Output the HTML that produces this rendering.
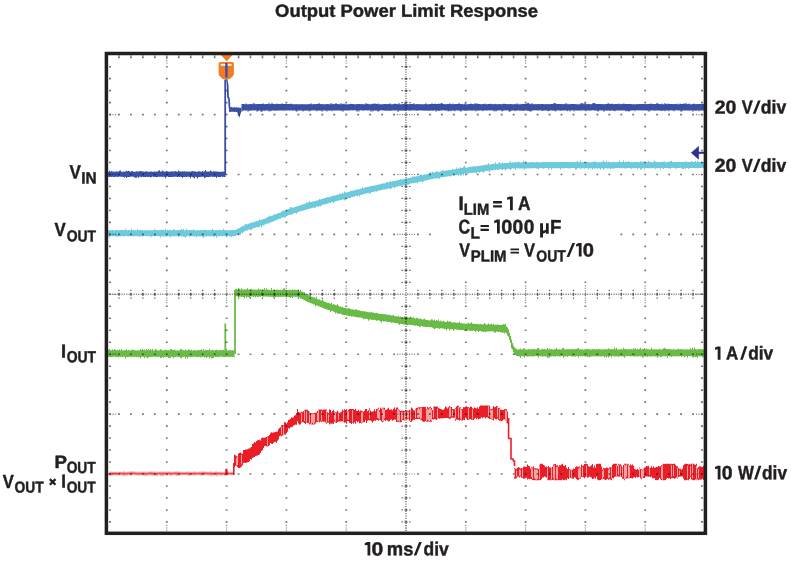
<!DOCTYPE html>
<html><head><meta charset="utf-8"><style>
html,body{margin:0;padding:0;background:#fff;}
svg{display:block;}
text{font-family:"Liberation Sans",sans-serif;font-weight:bold;fill:#231f20;stroke:#231f20;stroke-width:0.45px;stroke-linejoin:round;text-rendering:geometricPrecision;}
</style></head><body>
<svg width="791" height="562" viewBox="0 0 791 562">
<rect width="791" height="562" fill="#fff"/>
<g><path d="M108 230.13h1V236.3h-1zM109 230.37h1V237.6h-1zM110 230.28h1V236.24h-1zM111 230.16h1V236.08h-1zM112 229.97h1V236.37h-1zM113 230.37h1V236.3h-1zM114 230.38h1V236.24h-1zM115 229.96h1V236.46h-1zM116 230h1V236.47h-1zM117 230.35h1V236.86h-1zM118 230.18h1V236.15h-1zM119 230.21h1V236.29h-1zM120 229.95h1V236.46h-1zM121 229.9h1V236.08h-1zM122 229.92h1V236.28h-1zM123 230.29h1V236.29h-1zM124 230.37h1V236.49h-1zM125 228.84h1V236.08h-1zM126 230.02h1V236.02h-1zM127 230.38h1V236.17h-1zM128 229.91h1V236.5h-1zM129 230.36h1V236.02h-1zM130 230.2h1V236.08h-1zM131 228.76h1V236.48h-1zM132 230.21h1V236.26h-1zM133 230.1h1V236.31h-1zM134 230.15h1V236.36h-1zM135 230.25h1V236.26h-1zM136 230.39h1V236.29h-1zM137 229.06h1V236.03h-1zM138 230.17h1V236.18h-1zM139 230.03h1V236.67h-1zM140 229.92h1V236.23h-1zM141 230.24h1V236.16h-1zM142 230.1h1V236.19h-1zM143 230.39h1V236.37h-1zM144 230.29h1V236.12h-1zM145 230.18h1V236.05h-1zM146 230.23h1V236.22h-1zM147 230.32h1V236.33h-1zM148 230.17h1V236.06h-1zM149 230.3h1V236.42h-1zM150 230.26h1V236.32h-1zM151 230.23h1V236.95h-1zM152 230.26h1V236.21h-1zM153 230.2h1V236.08h-1zM154 228.67h1V236.49h-1zM155 229.92h1V236.11h-1zM156 229.98h1V236.26h-1zM157 230.23h1V236.03h-1zM158 230.26h1V236.02h-1zM159 230.05h1V236.45h-1zM160 230.11h1V237.49h-1zM161 229.44h1V236.26h-1zM162 229.93h1V236.17h-1zM163 229.97h1V236.39h-1zM164 230.3h1V236.41h-1zM165 228.85h1V236.4h-1zM166 230.4h1V236.43h-1zM167 229.47h1V236.26h-1zM168 230.16h1V236h-1zM169 229.65h1V236.68h-1zM170 229.97h1V237.2h-1zM171 230.24h1V236.32h-1zM172 230.22h1V236.16h-1zM173 229.13h1V236.19h-1zM174 229.59h1V236.3h-1zM175 230.21h1V236.31h-1zM176 230.21h1V236.35h-1zM177 230.05h1V236.12h-1zM178 230.05h1V237.11h-1zM179 229.96h1V236.19h-1zM180 230h1V236.23h-1zM181 228.82h1V236.44h-1zM182 230.07h1V236.28h-1zM183 229.09h1V236.77h-1zM184 230.38h1V236.72h-1zM185 230.31h1V237.61h-1zM186 228.79h1V236.42h-1zM187 230.11h1V236.02h-1zM188 230.14h1V236.05h-1zM189 229.93h1V236.99h-1zM190 229.99h1V236.09h-1zM191 230.09h1V236.2h-1zM192 230.2h1V236.21h-1zM193 229.2h1V236.21h-1zM194 230.32h1V236.38h-1zM195 230.14h1V236.32h-1zM196 230.33h1V237.5h-1zM197 230.14h1V236.36h-1zM198 230.27h1V236.29h-1zM199 230.28h1V236.48h-1zM200 230.05h1V236.43h-1zM201 230.27h1V236.01h-1zM202 230.21h1V237.03h-1zM203 230.01h1V237.79h-1zM204 230.1h1V236.42h-1zM205 230.12h1V236.36h-1zM206 230.2h1V236.48h-1zM207 230.29h1V236.36h-1zM208 229.92h1V236.12h-1zM209 230.27h1V236.35h-1zM210 229.95h1V236.43h-1zM211 230.19h1V236.04h-1zM212 228.8h1V236.18h-1zM213 230.06h1V237h-1zM214 230.16h1V236.29h-1zM215 230.2h1V236.06h-1zM216 230.07h1V237.66h-1zM217 230.35h1V236.19h-1zM218 230.02h1V236.34h-1zM219 230h1V236.38h-1zM220 230.06h1V236.06h-1zM221 230.22h1V236.34h-1zM222 230.31h1V236.32h-1zM223 228.73h1V236.06h-1zM224 230.33h1V236.36h-1zM225 230.12h1V236.23h-1zM226 230.31h1V237.46h-1zM227 230.13h1V236.18h-1zM228 230.21h1V236.02h-1zM229 230.28h1V236.18h-1zM230 230.2h1V236.39h-1zM231 229.98h1V236.92h-1zM232 229.66h1V236.36h-1zM233 230.31h1V236.37h-1zM234 230.03h1V236.07h-1zM235 230.04h1V236.02h-1zM236 229.49h1V235.24h-1zM237 228.65h1V234.89h-1zM238 228.29h1V234.67h-1zM239 227.91h1V233.9h-1zM240 227.18h1V234.66h-1zM241 226.77h1V232.85h-1zM242 226.24h1V233.3h-1zM243 225.76h1V232.06h-1zM244 225.39h1V231.37h-1zM245 224.01h1V230.68h-1zM246 224.26h1V230.76h-1zM247 224.33h1V230.3h-1zM248 223.72h1V229.85h-1zM249 223.29h1V229.58h-1zM250 223.2h1V229.69h-1zM251 222.28h1V229.92h-1zM252 222.53h1V228.72h-1zM253 222.25h1V228.28h-1zM254 221.71h1V227.94h-1zM255 221.58h1V227.55h-1zM256 220.67h1V227.19h-1zM257 221.1h1V226.89h-1zM258 220.8h1V227.21h-1zM259 219.37h1V226.79h-1zM260 220.04h1V225.87h-1zM261 219.72h1V227.28h-1zM262 219.55h1V225.28h-1zM263 219.11h1V225.54h-1zM264 218.82h1V224.79h-1zM265 218.44h1V224.33h-1zM266 217.87h1V223.83h-1zM267 217.29h1V223.38h-1zM268 216.66h1V223.61h-1zM269 215.57h1V222.66h-1zM270 216.31h1V222.61h-1zM271 216.12h1V222.04h-1zM272 215.68h1V221.75h-1zM273 214.25h1V221.26h-1zM274 214.82h1V220.88h-1zM275 214.22h1V220.28h-1zM276 213.98h1V219.93h-1zM277 213.6h1V219.58h-1zM278 213.08h1V218.95h-1zM279 212.85h1V218.84h-1zM280 212.4h1V218.47h-1zM281 211.6h1V217.87h-1zM282 211.27h1V217.42h-1zM283 210.14h1V216.88h-1zM284 210.76h1V217.79h-1zM285 210.38h1V217.38h-1zM286 210.03h1V216.12h-1zM287 209.44h1V215.71h-1zM288 209h1V215.09h-1zM289 208.38h1V214.73h-1zM290 206.99h1V214.8h-1zM291 207.27h1V214.44h-1zM292 207.78h1V214.14h-1zM293 207.48h1V213.44h-1zM294 207.16h1V213.16h-1zM295 206.91h1V212.78h-1zM296 206.57h1V213.68h-1zM297 206.28h1V212.4h-1zM298 206h1V211.94h-1zM299 205.81h1V211.53h-1zM300 205.16h1V211.62h-1zM301 204.74h1V211.01h-1zM302 204.43h1V210.73h-1zM303 204.36h1V210.62h-1zM304 203.79h1V209.91h-1zM305 203.82h1V209.89h-1zM306 202.19h1V209.5h-1zM307 203.03h1V209.14h-1zM308 202.16h1V208.75h-1zM309 201.31h1V208.92h-1zM310 202.1h1V208.22h-1zM311 202.03h1V208.13h-1zM312 201.55h1V207.8h-1zM313 201.28h1V207.41h-1zM314 201.39h1V208.24h-1zM315 201.03h1V207.56h-1zM316 200.6h1V206.82h-1zM317 200.53h1V206.15h-1zM318 200.09h1V207.11h-1zM319 199h1V205.97h-1zM320 199.56h1V206.4h-1zM321 199.06h1V205.4h-1zM322 199.05h1V205.11h-1zM323 198.41h1V204.57h-1zM324 197.92h1V204.59h-1zM325 198.03h1V204.33h-1zM326 197.69h1V203.86h-1zM327 196.91h1V203.82h-1zM328 197.25h1V203.29h-1zM329 196.96h1V202.87h-1zM330 196.66h1V202.94h-1zM331 196.18h1V202.27h-1zM332 196.11h1V202.12h-1zM333 195.66h1V203.11h-1zM334 195.58h1V201.92h-1zM335 195.48h1V201.26h-1zM336 194.89h1V201.04h-1zM337 194.56h1V200.83h-1zM338 194.7h1V200.86h-1zM339 193.62h1V200.14h-1zM340 193.86h1V200.14h-1zM341 193.96h1V200.04h-1zM342 192.77h1V199.42h-1zM343 193.4h1V199.5h-1zM344 191.46h1V200.54h-1zM345 192.56h1V199.15h-1zM346 192.52h1V198.62h-1zM347 192.32h1V198.21h-1zM348 192.02h1V198.17h-1zM349 191.74h1V198.16h-1zM350 191.08h1V197.96h-1zM351 190.78h1V197h-1zM352 190.56h1V196.99h-1zM353 190.78h1V196.76h-1zM354 190.26h1V196.42h-1zM355 190.03h1V196h-1zM356 189.59h1V195.75h-1zM357 189.39h1V196.33h-1zM358 189.54h1V195.37h-1zM359 189.27h1V196.57h-1zM360 188.59h1V194.94h-1zM361 188.79h1V194.66h-1zM362 187.27h1V194.45h-1zM363 188.19h1V194.25h-1zM364 187.64h1V194.12h-1zM365 187.37h1V193.52h-1zM366 187.25h1V193.54h-1zM367 186.89h1V193.21h-1zM368 186.69h1V192.99h-1zM369 186.58h1V193.6h-1zM370 186.25h1V193.87h-1zM371 185.91h1V192.11h-1zM372 185.71h1V192.19h-1zM373 185.73h1V191.76h-1zM374 185.48h1V191.7h-1zM375 185.35h1V191.21h-1zM376 185.12h1V191.78h-1zM377 184.97h1V191.04h-1zM378 184.4h1V190.79h-1zM379 184.33h1V190.21h-1zM380 184.15h1V190.39h-1zM381 184.03h1V190.03h-1zM382 183.28h1V189.52h-1zM383 183.61h1V189.5h-1zM384 183.27h1V189.42h-1zM385 183.23h1V189.22h-1zM386 181.93h1V189.16h-1zM387 182.24h1V188.66h-1zM388 182.22h1V188.45h-1zM389 181.98h1V188.22h-1zM390 180.84h1V189.53h-1zM391 181.71h1V188.48h-1zM392 181.36h1V187.53h-1zM393 181.24h1V187.27h-1zM394 180.91h1V188.2h-1zM395 180.97h1V187.2h-1zM396 180.56h1V186.56h-1zM397 180.56h1V186.76h-1zM398 180.1h1V186.17h-1zM399 180.09h1V185.98h-1zM400 178.88h1V186.1h-1zM401 179.83h1V185.65h-1zM402 178.74h1V185.59h-1zM403 179.37h1V185.24h-1zM404 179.08h1V184.91h-1zM405 178.68h1V186.09h-1zM406 178.5h1V184.68h-1zM407 178.52h1V184.58h-1zM408 178.04h1V184.38h-1zM409 178h1V184.21h-1zM410 177.4h1V183.59h-1zM411 177.51h1V183.57h-1zM412 176.23h1V183.3h-1zM413 176.81h1V183.09h-1zM414 176.61h1V182.67h-1zM415 176.53h1V182.85h-1zM416 176.32h1V182.61h-1zM417 176.23h1V183.39h-1zM418 175.98h1V182.04h-1zM419 175.59h1V181.73h-1zM420 174.46h1V181.68h-1zM421 174.43h1V181.31h-1zM422 175.23h1V182.06h-1zM423 174.82h1V181.39h-1zM424 174.39h1V180.71h-1zM425 174.6h1V180.39h-1zM426 174.36h1V180.25h-1zM427 174.07h1V179.89h-1zM428 173.72h1V179.69h-1zM429 173.37h1V179.81h-1zM430 172.1h1V179.26h-1zM431 172.84h1V179.31h-1zM432 171.71h1V178.96h-1zM433 172.48h1V178.77h-1zM434 172.54h1V178.48h-1zM435 172.3h1V178.22h-1zM436 171.06h1V178.41h-1zM437 171.79h1V178.23h-1zM438 172.08h1V178.08h-1zM439 171.84h1V179.32h-1zM440 171.54h1V177.46h-1zM441 171.28h1V177.3h-1zM442 170.11h1V177.13h-1zM443 170.59h1V177.09h-1zM444 170.63h1V176.86h-1zM445 170.97h1V176.92h-1zM446 170.17h1V176.57h-1zM447 170.59h1V176.44h-1zM448 170.26h1V176.24h-1zM449 170.09h1V176.09h-1zM450 169.95h1V176.74h-1zM451 169.72h1V175.74h-1zM452 169.2h1V175.53h-1zM453 169.54h1V175.57h-1zM454 169.14h1V175.32h-1zM455 169.31h1V175.19h-1zM456 167.47h1V175.09h-1zM457 168.96h1V174.7h-1zM458 168.36h1V175.66h-1zM459 168.57h1V174.5h-1zM460 167.36h1V175.58h-1zM461 167.92h1V175.38h-1zM462 167.97h1V173.96h-1zM463 166.69h1V175.4h-1zM464 166.12h1V173.52h-1zM465 167.47h1V173.59h-1zM466 167.57h1V173.47h-1zM467 167.49h1V174.5h-1zM468 167.15h1V173.25h-1zM469 167.01h1V172.86h-1zM470 166.75h1V172.95h-1zM471 166.81h1V172.96h-1zM472 166.63h1V172.64h-1zM473 165.86h1V172.65h-1zM474 166.53h1V173.04h-1zM475 166.37h1V172.38h-1zM476 166.16h1V173.45h-1zM477 166.07h1V171.98h-1zM478 166.01h1V172.03h-1zM479 165.64h1V173.12h-1zM480 165.69h1V171.69h-1zM481 165.55h1V171.71h-1zM482 165.53h1V171.63h-1zM483 165.01h1V172.64h-1zM484 165.32h1V171.45h-1zM485 164.83h1V171.07h-1zM486 164.27h1V170.94h-1zM487 164.79h1V170.73h-1zM488 163.14h1V170.68h-1zM489 164.62h1V172.02h-1zM490 164.52h1V170.35h-1zM491 164.34h1V170.22h-1zM492 164.11h1V170.24h-1zM493 163.84h1V170.24h-1zM494 164.12h1V169.86h-1zM495 162.31h1V170.13h-1zM496 163.93h1V169.62h-1zM497 163.77h1V169.98h-1zM498 163.36h1V169.75h-1zM499 162.06h1V169.51h-1zM500 163.36h1V169.31h-1zM501 163.56h1V169.34h-1zM502 162.49h1V170.06h-1zM503 163.2h1V169.15h-1zM504 162.93h1V169.3h-1zM505 163.17h1V170.45h-1zM506 162.96h1V169.17h-1zM507 162.88h1V168.67h-1zM508 162.74h1V168.8h-1zM509 162.54h1V168.99h-1zM510 161.17h1V169.96h-1zM511 162.69h1V168.75h-1zM512 162.2h1V168.27h-1zM513 162.54h1V168.42h-1zM514 162.19h1V168.53h-1zM515 162.31h1V169.85h-1zM516 161.88h1V168.32h-1zM517 162.56h1V168.53h-1zM518 161.35h1V168.27h-1zM519 162.19h1V168.54h-1zM520 162.55h1V168.42h-1zM521 162.44h1V168.21h-1zM522 162.32h1V168.48h-1zM523 161.06h1V168.56h-1zM524 162.41h1V169.81h-1zM525 162.33h1V168.47h-1zM526 162.35h1V168.5h-1zM527 162.47h1V168.47h-1zM528 162.3h1V168.32h-1zM529 162.45h1V168.4h-1zM530 162.02h1V168.32h-1zM531 162.18h1V168.33h-1zM532 162.23h1V168.17h-1zM533 162.32h1V168.11h-1zM534 162.24h1V168.17h-1zM535 162.39h1V168.35h-1zM536 161.64h1V168.53h-1zM537 162.16h1V168.38h-1zM538 162.11h1V169.17h-1zM539 162.41h1V168.19h-1zM540 162.12h1V168.28h-1zM541 162.16h1V168.05h-1zM542 162.23h1V168.19h-1zM543 161.76h1V168.72h-1zM544 162.11h1V168.36h-1zM545 162.37h1V168.11h-1zM546 162.33h1V168.12h-1zM547 161.99h1V168.07h-1zM548 162.04h1V169.7h-1zM549 161.93h1V168.3h-1zM550 162.26h1V168.05h-1zM551 161.99h1V169.48h-1zM552 161.95h1V168.33h-1zM553 162.37h1V168.17h-1zM554 162.05h1V168.36h-1zM555 162.04h1V168.24h-1zM556 161.98h1V168.16h-1zM557 162.27h1V167.98h-1zM558 162.14h1V168.27h-1zM559 161.9h1V168.28h-1zM560 161.94h1V169.57h-1zM561 161.88h1V168.18h-1zM562 162.05h1V168.36h-1zM563 161.96h1V168.13h-1zM564 162.04h1V168.26h-1zM565 162.05h1V168.12h-1zM566 161.93h1V168.11h-1zM567 162.01h1V168.3h-1zM568 162.01h1V168.16h-1zM569 162.14h1V168.35h-1zM570 162.31h1V168.44h-1zM571 162.08h1V167.98h-1zM572 162.05h1V168.12h-1zM573 162.3h1V168.09h-1zM574 161.96h1V168.34h-1zM575 162.1h1V169.59h-1zM576 161.98h1V169.54h-1zM577 161.08h1V167.99h-1zM578 161.91h1V168.12h-1zM579 162.18h1V168.16h-1zM580 160.59h1V168.86h-1zM581 162.3h1V168.38h-1zM582 162.18h1V168.37h-1zM583 162.04h1V168.16h-1zM584 161.86h1V168.79h-1zM585 161.95h1V168.03h-1zM586 162.26h1V168.18h-1zM587 161.94h1V168.34h-1zM588 162.23h1V169.39h-1zM589 162.19h1V168.04h-1zM590 162.3h1V168.39h-1zM591 162.26h1V168.26h-1zM592 161.9h1V169.58h-1zM593 161.93h1V167.97h-1zM594 160.99h1V168.67h-1zM595 161.9h1V168.36h-1zM596 161.9h1V168.21h-1zM597 162.32h1V168.83h-1zM598 162.27h1V168.22h-1zM599 161.89h1V168.37h-1zM600 162.2h1V169.49h-1zM601 161.93h1V168.23h-1zM602 161.45h1V168.3h-1zM603 160.61h1V169.69h-1zM604 161.92h1V168.4h-1zM605 161.97h1V168.34h-1zM606 160.66h1V167.95h-1zM607 162.16h1V168.83h-1zM608 161.38h1V168.41h-1zM609 161.89h1V168.28h-1zM610 162.19h1V169.17h-1zM611 161.95h1V168.21h-1zM612 162h1V168.82h-1zM613 162.21h1V168.4h-1zM614 161.83h1V168.38h-1zM615 161.93h1V168.01h-1zM616 162.02h1V168.24h-1zM617 161.91h1V167.98h-1zM618 161.99h1V167.91h-1zM619 160.54h1V168.26h-1zM620 162.11h1V168.19h-1zM621 162.04h1V168.06h-1zM622 162h1V168.34h-1zM623 160.54h1V168.03h-1zM624 162.25h1V168.32h-1zM625 161.87h1V168.63h-1zM626 162.05h1V168.05h-1zM627 162h1V168.29h-1zM628 160.98h1V167.92h-1zM629 162.03h1V168.08h-1zM630 161.9h1V168.5h-1zM631 162.09h1V168.7h-1zM632 162.2h1V168.23h-1zM633 161.96h1V168.29h-1zM634 161.97h1V168.21h-1zM635 161.99h1V168.26h-1zM636 161.93h1V167.9h-1zM637 161.79h1V169.47h-1zM638 162.25h1V167.89h-1zM639 162.13h1V168.33h-1zM640 161.2h1V169.39h-1zM641 161.59h1V169.51h-1zM642 162.12h1V168.15h-1zM643 161.8h1V168.11h-1zM644 162.15h1V169.48h-1zM645 161.83h1V168.06h-1zM646 162.22h1V168.09h-1zM647 162.18h1V168.31h-1zM648 161h1V168.13h-1zM649 162.07h1V168.28h-1zM650 161.99h1V168.32h-1zM651 162.18h1V168.28h-1zM652 162.21h1V167.94h-1zM653 161.77h1V168.24h-1zM654 160.64h1V167.87h-1zM655 161.8h1V169.01h-1zM656 162.09h1V168.25h-1zM657 161.76h1V168.29h-1zM658 162.16h1V168.15h-1zM659 161.97h1V167.95h-1zM660 162.07h1V169.63h-1zM661 161.92h1V167.93h-1zM662 161.84h1V168.31h-1zM663 161.8h1V168.98h-1zM664 161.47h1V168.03h-1zM665 162.14h1V168.01h-1zM666 162.21h1V168.27h-1zM667 162.12h1V167.9h-1zM668 161.62h1V168.27h-1zM669 162.1h1V167.88h-1zM670 160.85h1V169.07h-1zM671 160.92h1V168.07h-1zM672 161.93h1V167.87h-1zM673 162.05h1V167.98h-1zM674 162.11h1V168.01h-1zM675 162.2h1V168.69h-1zM676 162.03h1V168.31h-1zM677 161.85h1V168h-1zM678 162.1h1V167.94h-1zM679 161.86h1V168.05h-1zM680 161.92h1V167.84h-1zM681 162h1V168.31h-1zM682 162.05h1V168.95h-1zM683 162.04h1V169.12h-1zM684 161.84h1V167.97h-1zM685 162h1V168.76h-1zM686 161.11h1V168.29h-1zM687 162.14h1V167.92h-1zM688 161.9h1V169.01h-1zM689 161.89h1V168.02h-1zM690 162.08h1V168.13h-1zM691 161h1V167.91h-1zM692 161.8h1V167.91h-1zM693 161.95h1V167.99h-1zM694 162.1h1V168.11h-1zM695 160.9h1V168.3h-1zM696 162.14h1V167.98h-1zM697 160.56h1V168.2h-1zM698 161.72h1V168.14h-1zM699 161.78h1V167.96h-1zM700 161.93h1V167.98h-1zM701 161.78h1V168.07h-1zM702 162.1h1V167.87h-1zM703 161.89h1V167.9h-1z" fill="#6ccadc"/><path d="M108 171.75h1V176.68h-1zM109 170.72h1V177h-1zM110 171.69h1V176.74h-1zM111 171.07h1V177.06h-1zM112 171.4h1V176.7h-1zM113 171.49h1V177.03h-1zM114 171.76h1V176.94h-1zM115 171.71h1V176.64h-1zM116 171.37h1V176.75h-1zM117 171.51h1V177.02h-1zM118 171.59h1V176.82h-1zM119 170.83h1V176.62h-1zM120 170.45h1V176.87h-1zM121 171.63h1V176.7h-1zM122 171.7h1V176.74h-1zM123 171.43h1V176.88h-1zM124 171.75h1V177.47h-1zM125 171.49h1V176.77h-1zM126 170.65h1V178.04h-1zM127 171.32h1V177.08h-1zM128 170.85h1V176.99h-1zM129 171.33h1V177.01h-1zM130 171.7h1V176.67h-1zM131 171.32h1V176.6h-1zM132 171h1V176.78h-1zM133 171.75h1V176.81h-1zM134 171.77h1V177.4h-1zM135 171.73h1V177.79h-1zM136 171.3h1V177.84h-1zM137 171.6h1V176.84h-1zM138 171.59h1V177.71h-1zM139 171.36h1V176.85h-1zM140 170.89h1V176.7h-1zM141 171.37h1V177.26h-1zM142 171.52h1V176.8h-1zM143 171.47h1V176.97h-1zM144 171.75h1V177.04h-1zM145 171.34h1V176.93h-1zM146 171.48h1V176.86h-1zM147 171.46h1V177.06h-1zM148 171.76h1V177.08h-1zM149 171.78h1V176.66h-1zM150 171.47h1V177.4h-1zM151 171.52h1V177.06h-1zM152 171.8h1V176.61h-1zM153 171.74h1V176.99h-1zM154 171.52h1V176.7h-1zM155 171.63h1V176.99h-1zM156 171.54h1V177.24h-1zM157 171.56h1V176.9h-1zM158 170.76h1V176.86h-1zM159 170.19h1V176.64h-1zM160 171.61h1V176.76h-1zM161 171.56h1V176.65h-1zM162 170.45h1V176.86h-1zM163 171.37h1V176.63h-1zM164 171.7h1V177.02h-1zM165 171.4h1V178.25h-1zM166 171.02h1V176.77h-1zM167 171.35h1V176.6h-1zM168 171.53h1V176.96h-1zM169 171.76h1V177.02h-1zM170 171.42h1V176.91h-1zM171 171.5h1V177.06h-1zM172 171.34h1V177.03h-1zM173 171.49h1V176.67h-1zM174 171.62h1V176.67h-1zM175 171.03h1V176.69h-1zM176 171.61h1V176.78h-1zM177 171.75h1V177.07h-1zM178 170.41h1V176.75h-1zM179 171.18h1V177.01h-1zM180 171.4h1V176.68h-1zM181 171.55h1V177.07h-1zM182 171.32h1V177.98h-1zM183 171.43h1V177.02h-1zM184 171.34h1V176.9h-1zM185 171.45h1V176.72h-1zM186 171.49h1V177.05h-1zM187 171.6h1V176.74h-1zM188 171.79h1V176.87h-1zM189 171.49h1V177.08h-1zM190 171.72h1V178.37h-1zM191 171.34h1V176.76h-1zM192 170.89h1V177.06h-1zM193 171.41h1V177.49h-1zM194 171.33h1V178.15h-1zM195 171.53h1V176.73h-1zM196 171.72h1V177.24h-1zM197 171.74h1V178.39h-1zM198 171.35h1V176.97h-1zM199 171.32h1V176.96h-1zM200 171.45h1V176.88h-1zM201 171.72h1V176.84h-1zM202 171h1V176.73h-1zM203 171.46h1V176.76h-1zM204 171.59h1V178.25h-1zM205 170.05h1V177.39h-1zM206 171.39h1V176.88h-1zM207 171.44h1V177.01h-1zM208 171.45h1V177.07h-1zM209 171.38h1V176.89h-1zM210 170.46h1V176.75h-1zM211 171.35h1V176.62h-1zM212 171.67h1V176.93h-1zM213 171.35h1V176.77h-1zM214 171.35h1V177.04h-1zM215 171.45h1V176.86h-1zM216 171.62h1V178.06h-1zM217 171.53h1V176.72h-1zM218 171.76h1V177.05h-1zM219 171.74h1V177.01h-1zM220 171.8h1V176.91h-1zM221 171.79h1V176.62h-1zM222 171.73h1V177.05h-1zM223 171.39h1V176.79h-1zM224 171.78h1V177.09h-1zM225 171.37h0.5V176.95h-0.5z" fill="#3a4fa6"/><path d="M225.2 175V79.5 M226.3 79.3 C227.5 79.5 227.6 84 227.8 90 L228 97 L229 99 L229.5 108" stroke="#3a4fa6" stroke-width="1.8" fill="none"/><path d="M229 107.5h1V111.76h-1zM230 107.49h1V111.97h-1zM231 107.1h1V111.84h-1zM232 107.39h1V111.79h-1zM233 107.15h1V111.79h-1zM234 107.3h1V111.88h-1zM235 107.47h1V111.84h-1zM236 107.28h1V112.01h-1zM237 107.55h1V112.53h-1zM238 107.42h1V112.68h-1zM239 107.81h1V112.5h-1zM240 107.86h1V112.73h-1zM241 107.26h0.5V111.96h-0.5z" fill="#3a4fa6"/><path d="M241.5 104h1V110.68h-1zM242.5 103.93h1V111.37h-1zM243.5 104.04h1V110.35h-1zM244.5 104.2h1V110.53h-1zM245.5 103.48h1V110.67h-1zM246.5 104.24h1V110.36h-1zM247.5 104.25h1V111.77h-1zM248.5 104.21h1V110.65h-1zM249.5 103.92h1V110.57h-1zM250.5 103.92h1V110.69h-1zM251.5 104.18h1V110.37h-1zM252.5 103.63h1V110.54h-1zM253.5 103.02h1V110.42h-1zM254.5 104.11h1V110.49h-1zM255.5 104.28h1V110.31h-1zM256.5 103.96h1V111.69h-1zM257.5 104.07h1V110.95h-1zM258.5 103.92h1V110.6h-1zM259.5 103.92h1V110.44h-1zM260.5 103.99h1V111.65h-1zM261.5 103.96h1V111.85h-1zM262.5 103.36h1V110.67h-1zM263.5 103.93h1V110.42h-1zM264.5 104.23h1V111.05h-1zM265.5 103.9h1V110.32h-1zM266.5 104.09h1V110.39h-1zM267.5 103.97h1V110.47h-1zM268.5 102.78h1V111.39h-1zM269.5 104.25h1V110.68h-1zM270.5 103.98h1V111.33h-1zM271.5 102.86h1V110.48h-1zM272.5 103.96h1V110.48h-1zM273.5 104.01h1V110.42h-1zM274.5 104.24h1V110.7h-1zM275.5 104.05h1V110.44h-1zM276.5 103.43h1V110.65h-1zM277.5 103.99h1V110.58h-1zM278.5 104h1V110.58h-1zM279.5 104.11h1V110.58h-1zM280.5 103.92h1V110.53h-1zM281.5 103.15h1V110.57h-1zM282.5 103.97h1V110.62h-1zM283.5 104.04h1V110.63h-1zM284.5 103.96h1V110.58h-1zM285.5 103.92h1V110.51h-1zM286.5 103.97h1V110.49h-1zM287.5 104.01h1V110.37h-1zM288.5 104.07h1V110.47h-1zM289.5 103.99h1V110.59h-1zM290.5 103.54h1V110.56h-1zM291.5 104.03h1V110.32h-1zM292.5 104.21h1V111.03h-1zM293.5 104.23h1V110.31h-1zM294.5 104.15h1V110.54h-1zM295.5 103.94h1V111.31h-1zM296.5 104.14h1V111.73h-1zM297.5 104.29h1V110.34h-1zM298.5 104.16h1V110.68h-1zM299.5 104.13h1V110.56h-1zM300.5 104.24h1V110.53h-1zM301.5 103.91h1V110.44h-1zM302.5 104.3h1V111.47h-1zM303.5 104.24h1V110.66h-1zM304.5 104.13h1V110.42h-1zM305.5 104.15h1V110.67h-1zM306.5 104.2h1V110.5h-1zM307.5 104.17h1V110.5h-1zM308.5 104.11h1V111.52h-1zM309.5 104.18h1V110.63h-1zM310.5 103.17h1V110.67h-1zM311.5 104.2h1V110.36h-1zM312.5 104.18h1V110.49h-1zM313.5 104.06h1V110.35h-1zM314.5 104.18h1V110.43h-1zM315.5 104.09h1V110.44h-1zM316.5 104.06h1V111.15h-1zM317.5 103.93h1V110.52h-1zM318.5 102.92h1V110.53h-1zM319.5 104.05h1V110.66h-1zM320.5 104.14h1V110.38h-1zM321.5 103.97h1V111.74h-1zM322.5 104.13h1V110.61h-1zM323.5 104.24h1V110.52h-1zM324.5 104.17h1V110.53h-1zM325.5 104.27h1V110.63h-1zM326.5 104.03h1V111.62h-1zM327.5 103.9h1V110.32h-1zM328.5 104.21h1V110.68h-1zM329.5 104.25h1V110.67h-1zM330.5 103.09h1V110.36h-1zM331.5 104.28h1V111.28h-1zM332.5 103.64h1V110.6h-1zM333.5 104.25h1V110.43h-1zM334.5 104.1h1V110.45h-1zM335.5 103h1V110.55h-1zM336.5 103.94h1V110.55h-1zM337.5 104.08h1V110.6h-1zM338.5 104.25h1V110.45h-1zM339.5 104.23h1V110.56h-1zM340.5 103.03h1V111.02h-1zM341.5 104.2h1V110.49h-1zM342.5 103.98h1V111.63h-1zM343.5 103.55h1V110.57h-1zM344.5 104.25h1V110.57h-1zM345.5 104.24h1V110.44h-1zM346.5 104.17h1V110.44h-1zM347.5 104.25h1V110.56h-1zM348.5 104.13h1V110.51h-1zM349.5 104.07h1V110.46h-1zM350.5 103.67h1V110.32h-1zM351.5 104.11h1V110.3h-1zM352.5 103.94h1V110.47h-1zM353.5 104.26h1V110.36h-1zM354.5 104.15h1V110.36h-1zM355.5 104.19h1V110.41h-1zM356.5 104.11h1V111.82h-1zM357.5 103.92h1V110.57h-1zM358.5 103.92h1V111.57h-1zM359.5 104.03h1V110.37h-1zM360.5 104.29h1V110.33h-1zM361.5 103.91h1V110.42h-1zM362.5 104.19h1V110.59h-1zM363.5 104.2h1V110.68h-1zM364.5 104.13h1V110.3h-1zM365.5 102.92h1V110.32h-1zM366.5 103.9h1V110.44h-1zM367.5 103.63h1V110.5h-1zM368.5 104.28h1V110.32h-1zM369.5 104.28h1V110.46h-1zM370.5 104.28h1V111.87h-1zM371.5 104.1h1V110.51h-1zM372.5 103.39h1V111.44h-1zM373.5 104.06h1V110.39h-1zM374.5 103.16h1V110.53h-1zM375.5 104.05h1V110.67h-1zM376.5 104.12h1V110.39h-1zM377.5 103.39h1V111.67h-1zM378.5 104.17h1V110.98h-1zM379.5 104.27h1V110.53h-1zM380.5 104.28h1V110.32h-1zM381.5 104.19h1V110.34h-1zM382.5 104.17h1V110.52h-1zM383.5 104.04h1V110.53h-1zM384.5 103.97h1V110.68h-1zM385.5 104.02h1V110.62h-1zM386.5 104.25h1V111.07h-1zM387.5 104.03h1V110.33h-1zM388.5 104.08h1V110.95h-1zM389.5 103.34h1V110.68h-1zM390.5 104.21h1V110.44h-1zM391.5 104.3h1V110.63h-1zM392.5 104.26h1V110.37h-1zM393.5 104.12h1V110.62h-1zM394.5 103.38h1V110.48h-1zM395.5 104.12h1V110.67h-1zM396.5 103.91h1V110.34h-1zM397.5 104.13h1V111.88h-1zM398.5 103.12h1V110.65h-1zM399.5 104.21h1V110.38h-1zM400.5 104.16h1V110.4h-1zM401.5 104.2h1V110.64h-1zM402.5 104.05h1V110.36h-1zM403.5 104.1h1V111.07h-1zM404.5 102.98h1V110.38h-1zM405.5 104.17h1V110.65h-1zM406.5 103.98h1V110.3h-1zM407.5 104.07h1V110.46h-1zM408.5 104.29h1V110.45h-1zM409.5 104.02h1V110.69h-1zM410.5 103.93h1V110.57h-1zM411.5 103.98h1V110.54h-1zM412.5 104.09h1V110.33h-1zM413.5 103.34h1V110.6h-1zM414.5 104.18h1V110.41h-1zM415.5 104.27h1V110.57h-1zM416.5 103.94h1V110.64h-1zM417.5 104.06h1V110.51h-1zM418.5 104.2h1V110.52h-1zM419.5 104.3h1V110.37h-1zM420.5 103.94h1V110.55h-1zM421.5 104.26h1V110.52h-1zM422.5 104.15h1V110.39h-1zM423.5 104.19h1V110.66h-1zM424.5 104.05h1V110.39h-1zM425.5 103.13h1V110.65h-1zM426.5 104.13h1V110.51h-1zM427.5 104.18h1V110.54h-1zM428.5 104.23h1V111.02h-1zM429.5 104.06h1V110.38h-1zM430.5 104.04h1V110.59h-1zM431.5 103.22h1V110.68h-1zM432.5 103.96h1V110.67h-1zM433.5 104.02h1V110.49h-1zM434.5 103.51h1V110.34h-1zM435.5 104.05h1V111.66h-1zM436.5 103.97h1V110.59h-1zM437.5 103.92h1V110.69h-1zM438.5 103.6h1V111.11h-1zM439.5 104.12h1V110.6h-1zM440.5 103.3h1V110.45h-1zM441.5 103.1h1V110.57h-1zM442.5 103.91h1V110.33h-1zM443.5 104.01h1V110.35h-1zM444.5 104.16h1V110.67h-1zM445.5 104.18h1V110.58h-1zM446.5 104.07h1V110.43h-1zM447.5 104.09h1V111.32h-1zM448.5 104.03h1V111.17h-1zM449.5 103.22h1V110.52h-1zM450.5 103.93h1V111.26h-1zM451.5 104.3h1V110.44h-1zM452.5 103.45h1V110.45h-1zM453.5 104.28h1V110.69h-1zM454.5 104.11h1V111.18h-1zM455.5 104.03h1V110.32h-1zM456.5 103.99h1V110.54h-1zM457.5 104.04h1V110.31h-1zM458.5 102.93h1V110.65h-1zM459.5 103.93h1V110.7h-1zM460.5 103.94h1V111.68h-1zM461.5 103.91h1V110.39h-1zM462.5 104.19h1V110.41h-1zM463.5 104.25h1V110.48h-1zM464.5 103.32h1V110.65h-1zM465.5 104.29h1V110.68h-1zM466.5 104.25h1V110.67h-1zM467.5 104.29h1V110.47h-1zM468.5 104h1V110.61h-1zM469.5 104.09h1V110.58h-1zM470.5 103.59h1V110.45h-1zM471.5 104.11h1V110.69h-1zM472.5 104.07h1V110.52h-1zM473.5 104.25h1V110.58h-1zM474.5 102.93h1V110.5h-1zM475.5 103.98h1V111.4h-1zM476.5 103.31h1V110.31h-1zM477.5 104.12h1V110.67h-1zM478.5 104.09h1V110.67h-1zM479.5 103.9h1V110.37h-1zM480.5 104.27h1V110.59h-1zM481.5 104.14h1V110.42h-1zM482.5 103.97h1V111.25h-1zM483.5 104.07h1V110.48h-1zM484.5 103.61h1V110.36h-1zM485.5 104.19h1V110.61h-1zM486.5 104.2h1V110.55h-1zM487.5 104.05h1V110.41h-1zM488.5 104.12h1V110.37h-1zM489.5 103.65h1V110.52h-1zM490.5 103.66h1V110.5h-1zM491.5 104.28h1V110.35h-1zM492.5 104.06h1V110.39h-1zM493.5 104.26h1V111.58h-1zM494.5 103.63h1V110.56h-1zM495.5 104.01h1V111.54h-1zM496.5 104.25h1V110.4h-1zM497.5 104.3h1V110.51h-1zM498.5 104.11h1V110.39h-1zM499.5 103.92h1V110.34h-1zM500.5 104.27h1V110.55h-1zM501.5 104.23h1V111.39h-1zM502.5 104.12h1V110.66h-1zM503.5 103.43h1V110.51h-1zM504.5 104.08h1V110.47h-1zM505.5 103.97h1V110.34h-1zM506.5 104.16h1V110.41h-1zM507.5 104.04h1V110.35h-1zM508.5 104.17h1V111.53h-1zM509.5 104.07h1V111.87h-1zM510.5 104.05h1V110.4h-1zM511.5 104.17h1V110.96h-1zM512.5 104.14h1V110.33h-1zM513.5 104.23h1V110.62h-1zM514.5 104.1h1V111.32h-1zM515.5 104.29h1V110.42h-1zM516.5 103.19h1V110.68h-1zM517.5 104.26h1V110.35h-1zM518.5 104.27h1V110.52h-1zM519.5 104.19h1V110.69h-1zM520.5 104.22h1V110.67h-1zM521.5 104.05h1V110.43h-1zM522.5 104.09h1V110.95h-1zM523.5 104.11h1V110.67h-1zM524.5 104.1h1V110.6h-1zM525.5 104.11h1V110.54h-1zM526.5 103.5h1V110.59h-1zM527.5 102.7h1V111.07h-1zM528.5 103.25h1V110.64h-1zM529.5 104.02h1V111.48h-1zM530.5 104.16h1V111.62h-1zM531.5 102.94h1V110.54h-1zM532.5 104.1h1V110.67h-1zM533.5 104.17h1V110.35h-1zM534.5 104.13h1V110.35h-1zM535.5 104h1V110.3h-1zM536.5 104.18h1V110.56h-1zM537.5 103.96h1V110.44h-1zM538.5 104.1h1V110.55h-1zM539.5 104.24h1V110.3h-1zM540.5 103.99h1V110.32h-1zM541.5 104.11h1V111.1h-1zM542.5 103.96h1V110.63h-1zM543.5 104.15h1V110.39h-1zM544.5 104.3h1V110.53h-1zM545.5 104.1h1V110.42h-1zM546.5 104.15h1V110.6h-1zM547.5 104.03h1V111.16h-1zM548.5 104.24h1V110.91h-1zM549.5 104.26h1V110.48h-1zM550.5 104.11h1V110.31h-1zM551.5 103.99h1V110.63h-1zM552.5 104.01h1V110.55h-1zM553.5 102.82h1V110.38h-1zM554.5 103.36h1V111.27h-1zM555.5 103.48h1V111.33h-1zM556.5 104.01h1V110.37h-1zM557.5 103.94h1V110.39h-1zM558.5 104.12h1V110.31h-1zM559.5 103.99h1V110.64h-1zM560.5 103.99h1V110.67h-1zM561.5 104.13h1V110.56h-1zM562.5 104.01h1V110.38h-1zM563.5 104.2h1V110.61h-1zM564.5 104.09h1V110.45h-1zM565.5 103.09h1V110.36h-1zM566.5 104.3h1V111.33h-1zM567.5 103.69h1V110.68h-1zM568.5 104.17h1V110.33h-1zM569.5 104.3h1V111.5h-1zM570.5 104.11h1V110.48h-1zM571.5 104.06h1V110.37h-1zM572.5 104.12h1V110.39h-1zM573.5 103.97h1V111.44h-1zM574.5 104.03h1V110.34h-1zM575.5 104.14h1V110.64h-1zM576.5 104.18h1V110.35h-1zM577.5 104.27h1V110.67h-1zM578.5 104.28h1V110.49h-1zM579.5 104.24h1V110.48h-1zM580.5 103.03h1V110.42h-1zM581.5 103.4h1V110.42h-1zM582.5 103.35h1V110.34h-1zM583.5 104.22h1V110.48h-1zM584.5 102.84h1V110.57h-1zM585.5 103.95h1V111.13h-1zM586.5 104.19h1V110.5h-1zM587.5 104.1h1V110.53h-1zM588.5 104.04h1V110.46h-1zM589.5 104.25h1V110.65h-1zM590.5 104.15h1V110.54h-1zM591.5 104.12h1V110.32h-1zM592.5 102.94h1V110.33h-1zM593.5 103.07h1V110.56h-1zM594.5 103.24h1V110.43h-1zM595.5 104.1h1V110.64h-1zM596.5 103.96h1V110.49h-1zM597.5 104.05h1V111.79h-1zM598.5 103.99h1V110.68h-1zM599.5 103.96h1V110.35h-1zM600.5 104.01h1V110.41h-1zM601.5 104.14h1V110.46h-1zM602.5 104.05h1V110.55h-1zM603.5 104.19h1V111.72h-1zM604.5 104.2h1V110.53h-1zM605.5 103.94h1V110.42h-1zM606.5 104.06h1V110.67h-1zM607.5 103.2h1V110.51h-1zM608.5 103.48h1V110.62h-1zM609.5 104.12h1V111.02h-1zM610.5 103.91h1V110.4h-1zM611.5 103.59h1V110.6h-1zM612.5 103.97h1V110.4h-1zM613.5 104.19h1V111.08h-1zM614.5 104.1h1V111.2h-1zM615.5 103.96h1V110.59h-1zM616.5 104.08h1V110.53h-1zM617.5 104.29h1V110.48h-1zM618.5 103.62h1V110.45h-1zM619.5 104.11h1V110.6h-1zM620.5 104.17h1V110.43h-1zM621.5 103.96h1V110.42h-1zM622.5 103.69h1V110.39h-1zM623.5 103.4h1V110.38h-1zM624.5 104.07h1V110.59h-1zM625.5 103.93h1V111.49h-1zM626.5 104.01h1V110.65h-1zM627.5 104.02h1V111.09h-1zM628.5 104.08h1V111.64h-1zM629.5 104.11h1V110.64h-1zM630.5 104.08h1V110.56h-1zM631.5 104.19h1V110.54h-1zM632.5 104.25h1V110.52h-1zM633.5 104.26h1V110.31h-1zM634.5 104.18h1V111.17h-1zM635.5 104.14h1V110.33h-1zM636.5 104.02h1V110.31h-1zM637.5 104.19h1V110.48h-1zM638.5 104.11h1V110.36h-1zM639.5 104.01h1V110.51h-1zM640.5 103.92h1V110.32h-1zM641.5 104.04h1V110.57h-1zM642.5 104.05h1V110.57h-1zM643.5 104.02h1V110.58h-1zM644.5 104.05h1V110.32h-1zM645.5 104.21h1V110.51h-1zM646.5 103.99h1V110.68h-1zM647.5 104.07h1V110.43h-1zM648.5 103.92h1V111.68h-1zM649.5 104.08h1V110.64h-1zM650.5 103.21h1V110.58h-1zM651.5 103.98h1V110.33h-1zM652.5 103.93h1V110.6h-1zM653.5 103.99h1V110.57h-1zM654.5 103.95h1V110.69h-1zM655.5 104.1h1V110.52h-1zM656.5 102.74h1V110.5h-1zM657.5 103.51h1V110.41h-1zM658.5 103.98h1V110.57h-1zM659.5 103.94h1V110.43h-1zM660.5 104.15h1V111.02h-1zM661.5 103.39h1V110.68h-1zM662.5 104.2h1V110.55h-1zM663.5 104.25h1V110.41h-1zM664.5 102.91h1V111.34h-1zM665.5 104.08h1V110.43h-1zM666.5 104.28h1V110.47h-1zM667.5 103.44h1V110.59h-1zM668.5 103.98h1V111.21h-1zM669.5 103.94h1V110.36h-1zM670.5 104.08h1V110.33h-1zM671.5 104.09h1V110.42h-1zM672.5 104.11h1V110.61h-1zM673.5 104.13h1V111.14h-1zM674.5 104.05h1V110.57h-1zM675.5 104.09h1V110.36h-1zM676.5 103.58h1V110.3h-1zM677.5 104.17h1V110.43h-1zM678.5 104.22h1V110.49h-1zM679.5 103.61h1V110.53h-1zM680.5 104.01h1V111.79h-1zM681.5 104.03h1V111.33h-1zM682.5 104.06h1V110.39h-1zM683.5 103.18h1V110.48h-1zM684.5 103.94h1V110.61h-1zM685.5 102.75h1V110.49h-1zM686.5 104.18h1V110.43h-1zM687.5 103.97h1V110.59h-1zM688.5 103.42h1V110.66h-1zM689.5 104.28h1V110.44h-1zM690.5 104.21h1V110.45h-1zM691.5 104.14h1V110.54h-1zM692.5 103.93h1V111.78h-1zM693.5 103.5h1V110.6h-1zM694.5 104.11h1V110.47h-1zM695.5 104.21h1V110.94h-1zM696.5 103.92h1V110.46h-1zM697.5 103.99h1V110.37h-1zM698.5 103.93h1V111.36h-1zM699.5 104.04h1V110.42h-1zM700.5 104.06h1V110.5h-1zM701.5 104.11h1V110.48h-1zM702.5 103.93h1V110.54h-1zM703.5 104.02h0.5V110.47h-0.5z" fill="#3a4fa6"/><path d="M237.5 110 L239.3 115 L240.5 111" stroke="#3a4fa6" stroke-width="1.8" fill="none"/><path d="M108 350.11h1V356.76h-1zM109 349.07h1V357.06h-1zM110 350.14h1V357.08h-1zM111 350.35h1V357.01h-1zM112 349.22h1V356.76h-1zM113 350.19h1V356.8h-1zM114 348.88h1V356.87h-1zM115 349.72h1V356.77h-1zM116 350.25h1V356.99h-1zM117 350.04h1V356.91h-1zM118 350.18h1V357.19h-1zM119 349.49h1V356.78h-1zM120 350.55h1V356.92h-1zM121 349.07h1V356.72h-1zM122 350.52h1V357.12h-1zM123 350.59h1V356.61h-1zM124 350.06h1V356.78h-1zM125 350.37h1V358.6h-1zM126 349.41h1V356.84h-1zM127 350.45h1V357.14h-1zM128 350.07h1V357.1h-1zM129 350.29h1V357.02h-1zM130 350.55h1V356.76h-1zM131 350.13h1V357.23h-1zM132 349.17h1V356.75h-1zM133 350.04h1V356.85h-1zM134 350.23h1V356.88h-1zM135 350.51h1V356.78h-1zM136 350.41h1V357.18h-1zM137 350.37h1V356.79h-1zM138 350.31h1V357.16h-1zM139 350.6h1V356.63h-1zM140 348.92h1V358.21h-1zM141 350.04h1V356.64h-1zM142 348.67h1V356.85h-1zM143 350.11h1V356.88h-1zM144 349.49h1V358.08h-1zM145 350.51h1V356.66h-1zM146 349.1h1V357.14h-1zM147 350.18h1V358.37h-1zM148 349.13h1V357.14h-1zM149 350.33h1V357.07h-1zM150 348.68h1V356.86h-1zM151 350.33h1V357.03h-1zM152 348.88h1V356.77h-1zM153 350.55h1V356.77h-1zM154 350.34h1V356.62h-1zM155 348.86h1V356.92h-1zM156 349.76h1V356.63h-1zM157 350.14h1V357.02h-1zM158 350.55h1V356.67h-1zM159 350.32h1V356.65h-1zM160 349.27h1V357.94h-1zM161 349.61h1V358h-1zM162 350.47h1V356.94h-1zM163 350.35h1V357.64h-1zM164 350.26h1V356.94h-1zM165 349.54h1V356.86h-1zM166 350h1V357h-1zM167 350.21h1V356.82h-1zM168 350.02h1V358.08h-1zM169 350.56h1V358.26h-1zM170 349h1V357.71h-1zM171 349.24h1V356.74h-1zM172 350.05h1V356.88h-1zM173 350.08h1V358.13h-1zM174 349.84h1V356.63h-1zM175 350.15h1V357.04h-1zM176 350.43h1V356.72h-1zM177 350.13h1V356.73h-1zM178 350.45h1V357.05h-1zM179 350.18h1V357.07h-1zM180 349.17h1V357.71h-1zM181 348.67h1V358.49h-1zM182 350.34h1V356.63h-1zM183 349.99h1V357.2h-1zM184 350.55h1V356.76h-1zM185 349.41h1V358.57h-1zM186 350.24h1V356.98h-1zM187 350.44h1V358.44h-1zM188 349.37h1V356.95h-1zM189 350.11h1V356.67h-1zM190 350.32h1V356.92h-1zM191 350.11h1V357.11h-1zM192 350.51h1V357.12h-1zM193 350.4h1V356.68h-1zM194 350.09h1V356.6h-1zM195 350.55h1V357.06h-1zM196 350.55h1V356.68h-1zM197 350.1h1V357.17h-1zM198 350.13h1V356.82h-1zM199 350.09h1V357.12h-1zM200 350.12h1V357.38h-1zM201 349.16h1V356.69h-1zM202 350.53h1V357.07h-1zM203 348.63h1V356.67h-1zM204 350.51h1V357.15h-1zM205 349.74h1V357.12h-1zM206 350.33h1V358.06h-1zM207 350.12h1V357.04h-1zM208 350.22h1V356.76h-1zM209 348.76h1V358.59h-1zM210 350.56h1V357.03h-1zM211 350.23h1V358.37h-1zM212 350.1h1V358.13h-1zM213 350.36h1V357.94h-1zM214 350.54h1V356.61h-1zM215 350.02h1V356.89h-1zM216 349.83h1V357.08h-1zM217 350.08h1V356.75h-1zM218 350.39h1V357.13h-1zM219 350.01h1V356.63h-1zM220 350.2h1V356.6h-1zM221 350.3h1V356.7h-1zM222 349.98h1V356.78h-1zM223 349.92h1V357.02h-1zM224 350.47h1V356.96h-1zM225 348.77h1V356.71h-1zM226 348.71h1V356.83h-1zM227 350.38h1V356.65h-1zM228 350.25h1V356.97h-1zM229 350.22h1V356.89h-1zM230 350.1h1V356.76h-1zM231 350.42h1V356.82h-1zM232 350.27h1V356.7h-1zM233 350.21h1V357h-1zM234 350.55h0.5V357.81h-0.5z" fill="#69bb46"/><path d="M225.3 357V323.5 M235 354V290" stroke="#69bb46" stroke-width="1.8" fill="none"/><path d="M235 289.23h1V297.79h-1zM236 288.86h1V296.34h-1zM237 289.54h1V296.51h-1zM238 288.06h1V297.15h-1zM239 288.86h1V296.77h-1zM240 289.77h1V296.83h-1zM241 288.37h1V296.64h-1zM242 289.43h1V296.64h-1zM243 289.51h1V296.94h-1zM244 289.57h1V298.19h-1zM245 289.43h1V296.44h-1zM246 289.35h1V297.94h-1zM247 288.31h1V296.85h-1zM248 289.58h1V297.1h-1zM249 289.59h1V298.16h-1zM250 289.48h1V296.45h-1zM251 288.83h1V296.56h-1zM252 289.41h1V296.42h-1zM253 289.82h1V296.9h-1zM254 289.47h1V296.33h-1zM255 289.73h1V297.54h-1zM256 289.69h1V296.59h-1zM257 289.77h1V297.06h-1zM258 288.62h1V296.84h-1zM259 289.53h1V296.4h-1zM260 289.17h1V296.71h-1zM261 289.76h1V296.37h-1zM262 289.85h1V296.4h-1zM263 289.53h1V296.73h-1zM264 288.03h1V296.44h-1zM265 289.7h1V296.49h-1zM266 288.59h1V296.48h-1zM267 289.57h1V296.69h-1zM268 289.8h1V296.53h-1zM269 289.96h1V296.85h-1zM270 290.02h1V296.69h-1zM271 288.08h1V296.74h-1zM272 289.92h1V296.76h-1zM273 289.66h1V297.91h-1zM274 289.61h1V297.04h-1zM275 289.88h1V297.05h-1zM276 289.5h1V296.78h-1zM277 289.5h1V296.65h-1zM278 289.96h1V297.06h-1zM279 289.9h1V296.85h-1zM280 289.68h1V296.93h-1zM281 289.74h1V296.76h-1zM282 289.79h1V296.67h-1zM283 288.49h1V296.76h-1zM284 288.36h1V296.69h-1zM285 289.82h1V297.06h-1zM286 289.92h1V297.01h-1zM287 289.99h1V296.9h-1zM288 289.92h1V297.02h-1zM289 289.76h1V297.15h-1zM290 289.69h1V298.01h-1zM291 290.11h1V297.09h-1zM292 289.62h1V298.02h-1zM293 289.79h1V296.6h-1zM294 289.67h1V296.8h-1zM295 289.7h1V296.95h-1zM296 290.02h1V296.79h-1zM297 290.28h1V296.96h-1zM298 289.69h1V297.31h-1zM299 290.89h1V297.53h-1zM300 289.71h1V298.43h-1zM301 291.42h1V298.6h-1zM302 291.85h1V299.06h-1zM303 292.32h1V299.84h-1zM304 292.34h1V299.9h-1zM305 293.87h1V300.66h-1zM306 294.17h1V301.16h-1zM307 294.37h1V301.92h-1zM308 295.22h1V302.15h-1zM309 295.54h1V302.42h-1zM310 296.1h1V303.12h-1zM311 296.63h1V303.52h-1zM312 296.71h1V303.67h-1zM313 297.58h1V304.57h-1zM314 297.58h1V304.49h-1zM315 298.35h1V306.21h-1zM316 296.85h1V305.58h-1zM317 299.14h1V305.62h-1zM318 299.21h1V306.21h-1zM319 299.61h1V306.5h-1zM320 300.18h1V307.02h-1zM321 300.58h1V307.22h-1zM322 299.61h1V307.79h-1zM323 300.67h1V308.22h-1zM324 301.82h1V308.87h-1zM325 301.96h1V308.96h-1zM326 302.53h1V309.38h-1zM327 302.72h1V309.62h-1zM328 302.88h1V310.08h-1zM329 303.35h1V310.36h-1zM330 303.83h1V312.09h-1zM331 302.54h1V310.78h-1zM332 304.4h1V311.07h-1zM333 304.21h1V311.39h-1zM334 304.58h1V312.01h-1zM335 305.09h1V313.61h-1zM336 305.27h1V312.73h-1zM337 304.12h1V313.81h-1zM338 305.81h1V313.39h-1zM339 306.45h1V313.91h-1zM340 306.44h1V313.62h-1zM341 306.93h1V314.14h-1zM342 306.99h1V315.31h-1zM343 307.8h1V314.75h-1zM344 307.93h1V314.89h-1zM345 308.07h1V315h-1zM346 308.26h1V315.52h-1zM347 308.39h1V315.62h-1zM348 307.91h1V315.92h-1zM349 308.62h1V316.14h-1zM350 308.96h1V315.86h-1zM351 309.13h1V316.84h-1zM352 309.24h1V316.19h-1zM353 309.5h1V316.51h-1zM354 309.92h1V316.76h-1zM355 309.62h1V317.04h-1zM356 309.21h1V317.15h-1zM357 310.16h1V317.24h-1zM358 310.1h1V317.54h-1zM359 310.49h1V317.48h-1zM360 310.67h1V317.49h-1zM361 311.03h1V317.71h-1zM362 311.32h1V317.99h-1zM363 311.24h1V319.22h-1zM364 311.32h1V318.67h-1zM365 311.59h1V318.8h-1zM366 311.64h1V318.75h-1zM367 311.97h1V318.89h-1zM368 312.28h1V320.67h-1zM369 312.13h1V319.39h-1zM370 312.14h1V319.38h-1zM371 312.05h1V319.81h-1zM372 312.69h1V319.78h-1zM373 312.61h1V319.98h-1zM374 313.03h1V319.81h-1zM375 313.04h1V320.01h-1zM376 312.83h1V320.83h-1zM377 313.37h1V320.38h-1zM378 313.84h1V320.33h-1zM379 313.65h1V320.66h-1zM380 313.94h1V321.41h-1zM381 313.94h1V322.46h-1zM382 313.64h1V321.02h-1zM383 314.15h1V321.43h-1zM384 314.29h1V321.18h-1zM385 313.99h1V321.41h-1zM386 314.58h1V321.47h-1zM387 315.12h1V322.11h-1zM388 314.78h1V322h-1zM389 314.84h1V321.94h-1zM390 315.19h1V322.08h-1zM391 315.59h1V323.09h-1zM392 315.59h1V322.4h-1zM393 314.75h1V322.57h-1zM394 315.92h1V323.05h-1zM395 316.19h1V323.02h-1zM396 316.13h1V323.39h-1zM397 316.5h1V323.3h-1zM398 316.1h1V323.69h-1zM399 316.73h1V324.93h-1zM400 316.38h1V323.71h-1zM401 316.99h1V323.96h-1zM402 316.86h1V323.94h-1zM403 317.18h1V324.86h-1zM404 316.44h1V324.38h-1zM405 317.24h1V324.04h-1zM406 317.08h1V324.66h-1zM407 317.61h1V325.17h-1zM408 317.6h1V324.8h-1zM409 317.96h1V324.81h-1zM410 316.6h1V325.03h-1zM411 317.31h1V325.1h-1zM412 317.84h1V325.36h-1zM413 317.31h1V325.37h-1zM414 318.14h1V325.4h-1zM415 318.48h1V325.66h-1zM416 317.92h1V325.4h-1zM417 317.64h1V326.04h-1zM418 318.8h1V325.9h-1zM419 318.89h1V327.18h-1zM420 318.36h1V326.38h-1zM421 319.33h1V326.08h-1zM422 319.5h1V326.56h-1zM423 319.29h1V326.65h-1zM424 318.79h1V326.86h-1zM425 319.83h1V327.03h-1zM426 319.7h1V327.07h-1zM427 320.08h1V326.87h-1zM428 320.13h1V326.98h-1zM429 320.4h1V327h-1zM430 320.17h1V327.3h-1zM431 319.19h1V327.33h-1zM432 319.4h1V327.65h-1zM433 320.51h1V328.41h-1zM434 319.56h1V329.32h-1zM435 320.9h1V328.13h-1zM436 319.88h1V328.09h-1zM437 320.63h1V328.22h-1zM438 319.53h1V328.21h-1zM439 321.17h1V329.12h-1zM440 320.42h1V328.28h-1zM441 321.51h1V328.32h-1zM442 321.56h1V328.46h-1zM443 320.83h1V328.53h-1zM444 321.83h1V328.91h-1zM445 322.06h1V328.99h-1zM446 322.01h1V330.39h-1zM447 320.77h1V328.74h-1zM448 321.8h1V328.76h-1zM449 321.44h1V330.7h-1zM450 321.37h1V329.16h-1zM451 322.53h1V329.16h-1zM452 322.39h1V329.21h-1zM453 322.18h1V330.72h-1zM454 322.57h1V329.43h-1zM455 322.62h1V329.35h-1zM456 322.77h1V329.57h-1zM457 322.63h1V330.18h-1zM458 322.82h1V329.58h-1zM459 321.8h1V329.94h-1zM460 323.28h1V329.92h-1zM461 322.9h1V330.32h-1zM462 323.39h1V330.08h-1zM463 323.52h1V330.12h-1zM464 323.54h1V330.87h-1zM465 323.7h1V330.43h-1zM466 323.71h1V330.63h-1zM467 323.49h1V330.51h-1zM468 322.44h1V330.57h-1zM469 323.72h1V330.6h-1zM470 323.28h1V330.91h-1zM471 322.15h1V330.67h-1zM472 323.45h1V330.99h-1zM473 324.02h1V330.57h-1zM474 323.68h1V330.73h-1zM475 324h1V332.19h-1zM476 324.1h1V330.64h-1zM477 323.9h1V330.92h-1zM478 324.2h1V332.08h-1zM479 324.15h1V331.04h-1zM480 323.96h1V331.08h-1zM481 324.31h1V331.18h-1zM482 324.4h1V331.82h-1zM483 324.36h1V332.08h-1zM484 322.97h1V331.38h-1zM485 324.32h1V332.18h-1zM486 324.43h1V331.57h-1zM487 324.49h1V331.61h-1zM488 323.43h1V331.4h-1zM489 324.53h1V331.2h-1zM490 324.35h1V331.26h-1zM491 323.76h1V331.52h-1zM492 324.82h1V331.33h-1zM493 324.11h1V331.38h-1zM494 324.71h1V332.44h-1zM495 324.63h1V332.78h-1zM496 324.69h1V331.49h-1zM497 324.58h1V331.67h-1zM498 324.65h1V332.06h-1zM499 324.97h1V331.66h-1zM500 324.78h1V332.14h-1zM501 325h1V332.23h-1zM502 324.71h1V333h-1zM503 324.1h1V332.58h-1zM504 324.52h1V333.61h-1zM505 324h1V332.44h-1zM506 326.39h1V333.22h-1zM507 327.54h1V335.5h-1zM508 329.59h1V336.71h-1zM509 332.72h1V339.68h-1zM510 335.93h1V342.89h-1zM511 339.48h1V348.28h-1zM512 343h1V349.61h-1zM513 345.6h1V352.36h-1zM514 347.2h1V354.66h-1zM515 348.14h1V355.06h-1zM516 348.99h1V355.93h-1zM517 349.54h1V356.03h-1zM518 349.56h1V356.41h-1zM519 349.16h1V356.37h-1zM520 348.39h1V357.95h-1zM521 349.45h1V356.23h-1zM522 349.19h1V356.37h-1zM523 348.2h1V356.22h-1zM524 348.57h1V357.39h-1zM525 349.53h1V356.15h-1zM526 349.51h1V356.34h-1zM527 349.59h1V356.81h-1zM528 349.12h1V356.44h-1zM529 349.59h1V356.31h-1zM530 349.37h1V356.19h-1zM531 349.34h1V356.55h-1zM532 349.2h1V356.44h-1zM533 349.15h1V356.31h-1zM534 349.1h1V356.17h-1zM535 349.54h1V356.12h-1zM536 349.13h1V356.16h-1zM537 348.06h1V356.24h-1zM538 347.64h1V357.81h-1zM539 349.45h1V356.08h-1zM540 349.49h1V356.2h-1zM541 349.58h1V356.17h-1zM542 349.02h1V356.64h-1zM543 349.17h1V356.19h-1zM544 349.08h1V356.13h-1zM545 349.41h1V356.49h-1zM546 349.3h1V356.41h-1zM547 348h1V357.8h-1zM548 349.55h1V357.45h-1zM549 348.43h1V357.56h-1zM550 349.59h1V356.39h-1zM551 349.02h1V356.54h-1zM552 349.47h1V356.06h-1zM553 349.47h1V356.46h-1zM554 349.21h1V356.26h-1zM555 349.34h1V356.73h-1zM556 347.98h1V356.08h-1zM557 349.59h1V356.29h-1zM558 349.24h1V356.13h-1zM559 349.13h1V356.44h-1zM560 349.39h1V356.41h-1zM561 349.58h1V356.04h-1zM562 348.29h1V356.42h-1zM563 347.81h1V357.69h-1zM564 349.29h1V356.55h-1zM565 349.56h1V356.43h-1zM566 349.07h1V356.06h-1zM567 349.34h1V357.09h-1zM568 349.16h1V356.35h-1zM569 349.17h1V356.05h-1zM570 349.54h1V356.05h-1zM571 349.08h1V356.46h-1zM572 349.09h1V356.39h-1zM573 349.58h1V356.6h-1zM574 349.04h1V356.49h-1zM575 349.16h1V356.6h-1zM576 349h1V356.05h-1zM577 348.43h1V356.24h-1zM578 347.95h1V357.44h-1zM579 349.4h1V356.01h-1zM580 349.32h1V356.49h-1zM581 349.59h1V356.21h-1zM582 349.42h1V356.3h-1zM583 349.55h1V356.14h-1zM584 349.39h1V356.56h-1zM585 348.95h1V356.13h-1zM586 349.22h1V356.57h-1zM587 349.02h1V356.88h-1zM588 349h1V356.42h-1zM589 349.51h1V357.32h-1zM590 349.6h1V356.42h-1zM591 349.51h1V356.47h-1zM592 349.03h1V356.5h-1zM593 349.32h1V356.06h-1zM594 349.16h1V356.19h-1zM595 349.55h1V356.39h-1zM596 349.09h1V356.25h-1zM597 349.46h1V356.59h-1zM598 348.67h1V356.44h-1zM599 349.36h1V356.25h-1zM600 349.58h1V356.6h-1zM601 349.25h1V356.57h-1zM602 349.39h1V356.15h-1zM603 349.49h1V356.23h-1zM604 349.11h1V357.3h-1zM605 349.54h1V356.38h-1zM606 349.06h1V357.55h-1zM607 349.44h1V356.18h-1zM608 348.29h1V357.41h-1zM609 349.3h1V356.41h-1zM610 349.13h1V356.34h-1zM611 349.01h1V357.48h-1zM612 349.09h1V356.07h-1zM613 349.44h1V356.07h-1zM614 347.68h1V356.47h-1zM615 349.36h1V356.54h-1zM616 348.04h1V356.59h-1zM617 349.57h1V356.29h-1zM618 349.46h1V356.73h-1zM619 349.21h1V356.52h-1zM620 349.52h1V356.27h-1zM621 348.73h1V356.26h-1zM622 349.56h1V356.53h-1zM623 347.78h1V356.56h-1zM624 349.02h1V357.64h-1zM625 348.94h1V356.17h-1zM626 349.29h1V356.31h-1zM627 349.59h1V356.36h-1zM628 349.1h1V356.01h-1zM629 349.22h1V356.35h-1zM630 349.55h1V356.48h-1zM631 349.04h1V356.34h-1zM632 349.56h1V356.32h-1zM633 348.09h1V356.08h-1zM634 349.33h1V356.91h-1zM635 348.27h1V356.25h-1zM636 349.58h1V356.27h-1zM637 348.63h1V356.6h-1zM638 349.43h1V356.54h-1zM639 349.09h1V356.01h-1zM640 347.73h1V356.52h-1zM641 349.59h1V356.15h-1zM642 349.08h1V357.58h-1zM643 348.94h1V357.13h-1zM644 347.96h1V356.29h-1zM645 349.25h1V356.77h-1zM646 348.57h1V356.17h-1zM647 349.31h1V357.1h-1zM648 349.25h1V356.27h-1zM649 349.52h1V356.53h-1zM650 349.56h1V356.45h-1zM651 347.72h1V356.38h-1zM652 349.3h1V356.29h-1zM653 349.49h1V356.18h-1zM654 349.07h1V356.32h-1zM655 349.51h1V356.39h-1zM656 349.28h1V356.49h-1zM657 349.58h1V357.74h-1zM658 349.53h1V356.47h-1zM659 348.46h1V356.24h-1zM660 349.53h1V356.97h-1zM661 349.45h1V356.97h-1zM662 349.03h1V356.31h-1zM663 348.45h1V356.22h-1zM664 347.72h1V356.1h-1zM665 348.38h1V356.54h-1zM666 349.07h1V356.31h-1zM667 349.11h1V357.84h-1zM668 349.34h1V356.04h-1zM669 349.01h1V356.54h-1zM670 349.22h1V356.27h-1zM671 349.49h1V357.1h-1zM672 349.55h1V356.34h-1zM673 349.06h1V356.3h-1zM674 349.43h1V356.26h-1zM675 349.39h1V356.54h-1zM676 349.55h1V356.14h-1zM677 349.26h1V356.25h-1zM678 348.39h1V356.5h-1zM679 349.41h1V356.15h-1zM680 349.2h1V356.11h-1zM681 349.07h1V356.94h-1zM682 349.57h1V356.22h-1zM683 349.31h1V356.15h-1zM684 349.6h1V357.5h-1zM685 349.51h1V356.34h-1zM686 349.38h1V356.14h-1zM687 349.26h1V357.8h-1zM688 349.49h1V356.08h-1zM689 349.59h1V356.1h-1zM690 348.26h1V356.26h-1zM691 349.31h1V356.33h-1zM692 347.83h1V357.37h-1zM693 349.43h1V357.39h-1zM694 347.62h1V356.54h-1zM695 349.08h1V357.27h-1zM696 349.28h1V356.96h-1zM697 349.58h1V357.63h-1zM698 349.26h1V356.14h-1zM699 349.03h1V356.28h-1zM700 349.16h1V356.47h-1zM701 349.23h1V356.37h-1zM702 349.31h1V357.33h-1zM703 349.53h1V356.79h-1z" fill="#69bb46"/><path d="M108 473.6 L109 474.67 L110 472.54 L111 474.95 L112 472.48 L113 474.7 L114 472.55 L115 474.51 L116 472.51 L117 474.78 L118 472.68 L119 474.46 L120 472.38 L121 474.45 L122 472.69 L123 474.82 L124 472.23 L125 474.99 L126 472.78 L127 474.79 L128 472.57 L129 474.49 L130 472.21 L131 474.72 L132 472.24 L133 474.51 L134 472.35 L135 474.42 L136 472.48 L137 474.66 L138 472.71 L139 474.71 L140 472.58 L141 474.7 L142 472.6 L143 474.67 L144 472.37 L145 475 L146 472.8 L147 474.9 L148 472.62 L149 474.59 L150 472.34 L151 474.57 L152 472.24 L153 474.86 L154 472.44 L155 474.91 L156 472.43 L157 474.97 L158 472.71 L159 474.4 L160 472.33 L161 474.95 L162 472.48 L163 474.99 L164 472.44 L165 474.44 L166 472.58 L167 474.87 L168 472.36 L169 474.45 L170 472.4 L171 474.98 L172 472.65 L173 474.47 L174 472.35 L175 474.46 L176 472.24 L177 474.88 L178 472.31 L179 474.74 L180 472.47 L181 474.51 L182 472.64 L183 474.48 L184 472.59 L185 474.47 L186 472.45 L187 474.53 L188 472.36 L189 474.98 L190 472.68 L191 474.58 L192 472.73 L193 474.53 L194 472.44 L195 474.91 L196 472.59 L197 474.46 L198 472.79 L199 474.53 L200 472.35 L201 474.86 L202 472.4 L203 474.58 L204 472.24 L205 474.45 L206 472.55 L207 474.55 L208 472.56 L209 474.62 L210 472.47 L211 474.98 L212 472.49 L213 474.74 L214 472.72 L215 474.51 L216 472.29 L217 474.95 L218 472.69 L219 474.55 L220 472.31 L221 474.84 L222 472.76 L223 474.52 L224 472.77 L225 474.93 L226 472.56 L227 474.65 L228 472.26 L229 474.42 L230 472.78 L231 474.54 L232 472.62 L233 474.55 L234 472.69" stroke="#f04a52" stroke-width="1.1" fill="none"/><path d="M225.5 475 L226 469.5 L226.8 469.5 L227.3 475" stroke="#eb1e28" stroke-width="1.4" fill="none"/><path d="M233.8 475V463" stroke="#eb1e28" stroke-width="1.6" fill="none"/><path d="M234 454.66h1V466.93h-1zM235 455.36h1V465.72h-1zM236 456.14h1V466h-1zM237 456.61h1V466.93h-1zM238 453.45h1V468.07h-1zM239 453.01h1V467.91h-1zM240 452.62h1V467.52h-1zM241 453.46h1V466.49h-1zM242 453.7h1V465.31h-1zM243 450.1h1V462.9h-1zM244 450.03h1V462.52h-1zM245 449.4h1V463.1h-1zM246 449.39h1V462.63h-1zM247 449.34h1V462.33h-1zM248 448.5h1V461.95h-1zM249 448.49h1V461.14h-1zM250 447.48h1V458.99h-1zM251 447.08h1V459.65h-1zM252 444.03h1V457.64h-1zM253 443.47h1V457.41h-1zM254 442.11h1V457.01h-1zM255 442.5h1V456.07h-1zM256 441.07h1V455.73h-1zM257 440.56h1V455.46h-1zM258 440.04h1V454.94h-1zM259 439.73h1V454.42h-1zM260 440.56h1V453.09h-1zM261 438.13h1V450.88h-1zM262 437.39h1V450.37h-1zM263 437.73h1V447.91h-1zM264 437.82h1V446.33h-1zM265 437.41h1V445.81h-1zM266 436.89h1V446.23h-1zM267 436.38h1V446.59h-1zM268 436.09h1V445.91h-1zM269 435.07h1V445.35h-1zM270 433.15h1V442.92h-1zM271 432.17h1V443.65h-1zM272 432.71h1V443.92h-1zM273 432.39h1V442.7h-1zM274 432.26h1V441.98h-1zM275 432.04h1V441.75h-1zM276 431.82h1V442.63h-1zM277 431.59h1V440.85h-1zM278 429.34h1V439.44h-1zM279 427.9h1V436.3h-1zM280 427.26h1V435.66h-1zM281 425.23h1V436.22h-1zM282 424.88h1V435.5h-1zM283 425.35h1V435.36h-1zM284 422.12h1V434.55h-1zM285 422.6h1V434.85h-1zM286 423.4h1V433.13h-1zM287 422.34h1V431.84h-1zM288 419.97h1V428.37h-1zM289 419.41h1V428.75h-1zM290 418.86h1V427.26h-1zM291 417.31h1V427.14h-1zM292 417.72h1V426.77h-1zM293 417.19h1V425.59h-1zM294 415.71h1V425.16h-1zM295 415.1h1V424.48h-1zM296 413.03h1V424.63h-1zM297 408.97h1V421.19h-1z" fill="#eb1e28"/><path d="M236.5 457.83V465.57M237.5 457.02V465.07M241.5 454.99V464.55M267.5 437.51V445.53M281.5 426.96V434.44M283.5 426.17V435.04" stroke="#f9c4c4" stroke-width="0.8" fill="none"/><path d="M298 411.96h1V423.51h-1zM299 412.59h1V424.68h-1zM300 412.49h1V424.18h-1zM301 411.69h1V422.77h-1zM302 412.29h1V422.26h-1zM303 410.88h1V422.18h-1zM304 409.72h1V423.03h-1zM305 409.71h1V424.05h-1zM306 409.7h1V422.44h-1zM307 409.69h1V423.03h-1zM308 411.11h1V423.34h-1zM309 411.5h1V424.56h-1zM310 413.15h1V423.66h-1zM311 413.14h1V424.54h-1zM312 413.13h1V424.53h-1zM313 413.11h1V424.51h-1zM314 412.77h1V424.5h-1zM315 412.67h1V423.53h-1zM316 412.59h1V422.33h-1zM317 410.99h1V422.01h-1zM318 409.64h1V421.54h-1zM319 409.54h1V422.13h-1zM320 409.53h1V421.43h-1zM321 409.52h1V421.97h-1zM322 410.18h1V421.41h-1zM323 409.5h1V421.69h-1zM324 409.5h1V421.42h-1zM325 409.5h1V422.57h-1zM326 409.5h1V423.78h-1zM327 412.15h1V422.75h-1zM328 413h1V422.6h-1zM329 409.51h1V424.4h-1zM330 409.72h1V423.53h-1zM331 412.52h1V423.84h-1zM332 410.97h1V423.6h-1zM333 409.71h1V424.05h-1zM334 411.14h1V421.68h-1zM335 412.34h1V422.46h-1zM336 412.33h1V422.9h-1zM337 410.64h1V421.88h-1zM338 412.45h1V421.4h-1zM339 413h1V421.4h-1zM340 412.61h1V421.38h-1zM341 411.82h1V421.34h-1zM342 409.39h1V421.29h-1zM343 410.72h1V422.07h-1zM344 409.31h1V422.74h-1zM345 409.9h1V422.14h-1zM346 409.22h1V423.65h-1zM347 411.61h1V421.08h-1zM348 409.67h1V421.04h-1zM349 409.1h1V422.64h-1zM350 409.05h1V422.94h-1zM351 409.01h1V423.91h-1zM352 408.97h1V423.1h-1zM353 408.93h1V423.76h-1zM354 410.05h1V422.35h-1zM355 408.84h1V423.74h-1zM356 410.72h1V420.88h-1zM357 411.06h1V422.19h-1zM358 409.83h1V421.62h-1zM359 411.13h1V423.13h-1zM360 410.38h1V422.9h-1zM361 410.64h1V423.49h-1zM362 411.19h1V422.94h-1zM363 411.75h1V422.17h-1zM364 410.79h1V421.97h-1zM365 408.95h1V420.32h-1zM366 408.95h1V422.93h-1zM367 411.21h1V420.72h-1zM368 410.23h1V420.22h-1zM369 408.34h1V420.15h-1zM370 410.5h1V420.48h-1zM371 411.66h1V421.25h-1zM372 411.45h1V422.76h-1zM373 411.18h1V421.09h-1zM374 409.24h1V420.44h-1zM375 411.33h1V420.67h-1zM376 408.89h1V419.85h-1zM377 408.77h1V420.05h-1zM378 407.86h1V420.43h-1zM379 410.18h1V419.93h-1zM380 407.8h1V420.36h-1zM381 408.64h1V421.45h-1zM382 407.75h1V422.21h-1zM383 407.73h1V421.55h-1zM384 407.71h1V420.03h-1zM385 409.99h1V421.06h-1zM386 409.65h1V419.89h-1zM387 408.79h1V420.62h-1zM388 407.63h1V421.58h-1zM389 409.86h1V421.15h-1zM390 409.6h1V419.72h-1zM391 409.54h1V419.47h-1zM392 410.3h1V420.76h-1zM393 408.64h1V420.12h-1zM394 407.51h1V419.41h-1zM395 409.57h1V419.46h-1zM396 407.47h1V422.03h-1zM397 407.45h1V421.88h-1zM398 409.23h1V421.88h-1zM399 410.26h1V422.31h-1zM400 410.89h1V422.29h-1zM401 410.86h1V422.03h-1zM402 410.85h1V420h-1zM403 410.68h1V420.18h-1zM404 410.81h1V420.45h-1zM405 409.9h1V419.19h-1zM406 410.77h1V419.47h-1zM407 410.5h1V419.15h-1zM408 410.73h1V419.13h-1zM409 409.94h1V420.69h-1zM410 409.64h1V422.09h-1zM411 407.56h1V421.81h-1zM412 408.39h1V420.38h-1zM413 410.29h1V419.72h-1zM414 410.61h1V419.81h-1zM415 408.63h1V418.99h-1zM416 408.1h1V418.97h-1zM417 407.84h1V419.04h-1zM418 407.03h1V419h-1zM419 407.35h1V418.91h-1zM420 406.99h1V420.22h-1zM421 406.97h1V420.16h-1zM422 406.95h1V421.35h-1zM423 406.93h1V421.83h-1zM424 406.91h1V421.72h-1zM425 406.99h1V421.1h-1zM426 409.22h1V421.77h-1zM427 406.85h1V421.75h-1zM428 407.7h1V421.45h-1zM429 407.2h1V421.71h-1zM430 406.78h1V421.68h-1zM431 407.92h1V421.64h-1zM432 410.03h1V419.23h-1zM433 406.81h1V419.42h-1zM434 406.62h1V419.04h-1zM435 406.58h1V419.32h-1zM436 406.54h1V419.88h-1zM437 406.71h1V418.72h-1zM438 407.93h1V418.36h-1zM439 408.53h1V418.87h-1zM440 409.08h1V418.27h-1zM441 409.27h1V418.42h-1zM442 409.77h1V418.19h-1zM443 409.75h1V418.15h-1zM444 408.58h1V418.11h-1zM445 406.61h1V418.11h-1zM446 407.14h1V418.03h-1zM447 408.61h1V417.99h-1zM448 407.23h1V418.34h-1zM449 406.06h1V419.08h-1zM450 407.22h1V418.51h-1zM451 407.08h1V417.85h-1zM452 408.88h1V417.79h-1zM453 409.15h1V417.84h-1zM454 409.31h1V417.71h-1zM455 408.17h1V420.65h-1zM456 406.53h1V419.45h-1zM457 405.69h1V419.78h-1zM458 405.65h1V419.67h-1zM459 407.62h1V420.51h-1zM460 407.22h1V420.05h-1zM461 409.03h1V420.43h-1zM462 408.98h1V420.38h-1zM463 407.29h1V419.66h-1zM464 407.31h1V420.3h-1zM465 406.81h1V417.39h-1zM466 406.31h1V418.83h-1zM467 406.94h1V420.05h-1zM468 407h1V419.66h-1zM469 407.78h1V419.51h-1zM470 406.54h1V419.03h-1zM471 406.74h1V419.75h-1zM472 408.23h1V420.01h-1zM473 408.64h1V419.96h-1zM474 407.44h1V418.86h-1zM475 407.96h1V417.86h-1zM476 408.57h1V419.2h-1zM477 407.32h1V418.15h-1zM478 408.68h1V419.38h-1zM479 406.55h1V418.86h-1zM480 405.59h1V418.58h-1zM481 405.47h1V417.24h-1zM482 405.36h1V418.37h-1zM483 405.7h1V417.29h-1zM484 405.41h1V417.31h-1zM485 405.44h1V418.43h-1zM486 405.46h1V417.36h-1zM487 405.49h1V417.39h-1zM488 405.51h1V418.18h-1zM489 405.68h1V419.12h-1zM490 408.91h1V419.12h-1zM491 409.09h1V419.6h-1zM492 408.53h1V420.06h-1zM493 405.89h1V420.54h-1zM494 407.35h1V418.19h-1zM495 406.91h1V419.15h-1zM496 406h1V419.39h-1zM497 405.74h1V418.55h-1zM498 407.97h1V419.66h-1zM499 407.75h1V420.69h-1zM500 409.43h1V420.82h-1zM501 409.68h1V421.07h-1zM502 409.93h1V420.68h-1zM503 410.1h1V419.39h-1zM504 409.37h1V419.43h-1zM505 408.96h1V420.62h-1zM506 409.13h1V422.7h-1zM507 411.49h1V423.48h-1z" fill="#eb1e28"/><path d="M301.5 413.1V422.26M304.5 410.18V421.24M306.5 411.26V421.95M309.5 412.04V423.07M311.5 413.95V423.92M312.5 413.96V422.56M313.5 413.47V423.97M314.5 414.1V422.64M317.5 412.85V420.66M318.5 410.12V420.9M321.5 410.95V421.29M326.5 410.03V422.84M328.5 414.46V421.2M334.5 411.5V419.91M335.5 413.05V421.73M338.5 413.38V419.93M343.5 411.88V421.66M347.5 412.25V419.43M348.5 411.28V419.99M352.5 410.21V422.41M361.5 412.58V422.98M362.5 411.89V422.62M369.5 409.56V418.48M377.5 409.77V418.18M378.5 408.67V418.55M379.5 411.96V419.45M382.5 408.21V421.18M383.5 408.58V421.18M384.5 409.65V418.35M397.5 409.23V421.22M398.5 410.03V420.64M399.5 411.38V421.85M401.5 412.21V420.85M402.5 412.31V418.8M404.5 411.8V420.1M405.5 411.56V418.28M407.5 411.5V418.2M408.5 411.84V418.61M410.5 410.14V421.39M415.5 409.33V418.09M417.5 409.54V417.59M418.5 407.46V417.99M419.5 409.26V417.26M420.5 407.53V419.82M421.5 407.45V418.5M426.5 409.78V421.22M427.5 408.76V419.77M428.5 409.51V420.78M429.5 407.82V421.31M430.5 407.87V420.02M431.5 409.65V421.28M433.5 407.28V417.51M437.5 408.47V418.37M449.5 407.57V417.31M450.5 407.64V416.57M452.5 410.17V416.38M455.5 408.99V419.38M458.5 406.83V418.01M460.5 408.11V419.07M461.5 409.53V419.93M468.5 407.67V418.91M472.5 409.28V419.41M488.5 406.15V416.32M490.5 409.6V417.96M491.5 410.25V419.23M492.5 409.65V419.63M497.5 406.25V417.02M499.5 408.81V419.08M505.5 410.18V419.87M506.5 410.69V422.3" stroke="#f9c4c4" stroke-width="0.8" fill="none"/><path d="M508.6 418V438.5 L511 438.5 V459 L513 459 L513.5 461 L514.5 461 V466" stroke="#eb1e28" stroke-width="1.6" fill="none"/><path d="M514 467.76h1V478.55h-1zM515 468.64h1V478.41h-1zM516 468.82h1V478.3h-1zM517 467.82h1V476.84h-1zM518 466.94h1V476.6h-1zM519 467.85h1V477.4h-1zM520 468.45h1V476.6h-1zM521 467.98h1V477.76h-1zM522 468.53h1V478.09h-1zM523 466.84h1V478.73h-1zM524 466.49h1V478.61h-1zM525 466.98h1V478.16h-1zM526 466.69h1V477.52h-1zM527 464.43h1V479.54h-1zM528 465.7h1V478.65h-1zM529 466.29h1V479.36h-1zM530 468.45h1V478.92h-1zM531 467.09h1V479.18h-1zM532 467.42h1V479.93h-1zM533 466.24h1V479.96h-1zM534 468.15h1V480.2h-1zM535 468.26h1V480.2h-1zM536 468.46h1V480.2h-1zM537 468.55h1V480.15h-1zM538 468.9h1V480.2h-1zM539 464.86h1V479.87h-1zM540 463.8h1V480.17h-1zM541 463.82h1V479.24h-1zM542 463.8h1V477.49h-1zM543 465.04h1V477.62h-1zM544 465.42h1V476.6h-1zM545 467h1V477.08h-1zM546 466.47h1V477.44h-1zM547 467.49h1V479.87h-1zM548 465.88h1V480.2h-1zM549 467.49h1V480.2h-1zM550 467.44h1V479.72h-1zM551 467.7h1V480.2h-1zM552 466.79h1V479.91h-1zM553 464.59h1V479.84h-1zM554 464.16h1V480.2h-1zM555 463.89h1V480.2h-1zM556 465.47h1V480.2h-1zM557 465.21h1V480.15h-1zM558 466.8h1V480.09h-1zM559 465.3h1V480.2h-1zM560 465.21h1V480.2h-1zM561 464.58h1V480.2h-1zM562 463.8h1V479.53h-1zM563 465.69h1V480.2h-1zM564 465.95h1V480.2h-1zM565 465.04h1V479.51h-1zM566 467.63h1V480.2h-1zM567 468.98h1V478.25h-1zM568 466.93h1V478.94h-1zM569 469.02h1V477.4h-1zM570 469.8h1V478.07h-1zM571 469.8h1V478.5h-1zM572 469.8h1V478.6h-1zM573 468.41h1V478.75h-1zM574 468.93h1V477.24h-1zM575 467.22h1V477.71h-1zM576 466.29h1V479.1h-1zM577 466.63h1V480.2h-1zM578 466.75h1V479.76h-1zM579 466.42h1V479.1h-1zM580 467.63h1V478.62h-1zM581 464.48h1V476.96h-1zM582 465.77h1V477.3h-1zM583 465.55h1V477.19h-1zM584 463.88h1V478.22h-1zM585 463.8h1V476.93h-1zM586 463.8h1V476.6h-1zM587 464.19h1V477.84h-1zM588 466.31h1V477.21h-1zM589 466.68h1V476.6h-1zM590 466.31h1V477.29h-1zM591 465.15h1V477.53h-1zM592 463.95h1V478.98h-1zM593 467.38h1V478.86h-1zM594 465.6h1V477.58h-1zM595 467.77h1V478.76h-1zM596 463.99h1V476.6h-1zM597 463.8h1V479.47h-1zM598 463.8h1V480.16h-1zM599 463.8h1V480.2h-1zM600 463.8h1V480.07h-1zM601 466.41h1V479.21h-1zM602 469.53h1V479.22h-1zM603 468.07h1V478.91h-1zM604 468.24h1V479.46h-1zM605 468.26h1V479.94h-1zM606 467.52h1V479.57h-1zM607 467.75h1V479.02h-1zM608 468.41h1V479.87h-1zM609 467.53h1V479.19h-1zM610 467.33h1V479.41h-1zM611 467.25h1V480.2h-1zM612 464.78h1V477.91h-1zM613 463.8h1V478.5h-1zM614 463.8h1V476.94h-1zM615 463.8h1V476.6h-1zM616 463.8h1V476.6h-1zM617 465.6h1V476.6h-1zM618 463.8h1V476.6h-1zM619 464.4h1V476.6h-1zM620 464.18h1V476.6h-1zM621 465.49h1V477.08h-1zM622 467.54h1V478.78h-1zM623 465.07h1V478.8h-1zM624 463.8h1V480.16h-1zM625 463.8h1V478.48h-1zM626 463.8h1V478.41h-1zM627 464.26h1V478.13h-1zM628 463.8h1V478.5h-1zM629 465.87h1V478.2h-1zM630 464.45h1V477.95h-1zM631 465.14h1V478.28h-1zM632 464.48h1V478.51h-1zM633 465.83h1V477.57h-1zM634 468.94h1V477.37h-1zM635 469.27h1V477.67h-1zM636 469.74h1V476.75h-1zM637 468.82h1V477.46h-1zM638 469.8h1V477.04h-1zM639 467.38h1V476.6h-1zM640 468.92h1V478.3h-1zM641 468.98h1V479.14h-1zM642 469.78h1V477.54h-1zM643 468.7h1V478.09h-1zM644 467.56h1V477.9h-1zM645 467.26h1V476.6h-1zM646 465.91h1V476.6h-1zM647 466.34h1V476.6h-1zM648 465.83h1V476.87h-1zM649 468.28h1V476.6h-1zM650 467.7h1V477.35h-1zM651 466.35h1V476.6h-1zM652 467.78h1V478.33h-1zM653 466.56h1V478.34h-1zM654 467.73h1V478.13h-1zM655 467.59h1V479.88h-1zM656 467.03h1V480.2h-1zM657 467.01h1V479.97h-1zM658 465.96h1V479.8h-1zM659 466.52h1V478.06h-1zM660 466.32h1V479.24h-1zM661 465.14h1V480.01h-1zM662 464.71h1V480.2h-1zM663 463.86h1V480.2h-1zM664 463.88h1V480.2h-1zM665 463.8h1V479.96h-1zM666 463.81h1V478.72h-1zM667 463.8h1V478.03h-1zM668 463.8h1V478.58h-1zM669 463.8h1V478.2h-1zM670 464.35h1V479.23h-1zM671 463.8h1V478.28h-1zM672 463.9h1V478.27h-1zM673 463.8h1V478h-1zM674 463.8h1V478.65h-1zM675 464.84h1V478.21h-1zM676 466.31h1V477.39h-1zM677 466.24h1V478.47h-1zM678 467.91h1V476.94h-1zM679 468.76h1V476.6h-1zM680 468.74h1V476.6h-1zM681 469.8h1V476.6h-1zM682 468.56h1V476.6h-1zM683 465.18h1V478.59h-1zM684 464.21h1V480.2h-1zM685 463.8h1V480.16h-1zM686 463.8h1V480.2h-1zM687 463.9h1V479.71h-1zM688 464.41h1V480.2h-1zM689 463.8h1V479.11h-1zM690 464.38h1V476.95h-1zM691 463.8h1V479.5h-1zM692 463.8h1V479.82h-1zM693 463.8h1V480.2h-1zM694 464.48h1V480.2h-1zM695 464.63h1V479.45h-1zM696 463.8h1V480.2h-1zM697 468.28h1V479.46h-1zM698 467.17h1V480.2h-1zM699 466.2h1V479.4h-1zM700 466.47h1V479.66h-1zM701 466.68h1V479.57h-1zM702 466.94h1V478.87h-1zM703 465.87h1V480h-1z" fill="#eb1e28"/><path d="M514.5 468.44V477M516.5 470.6V476.63M519.5 469.54V475.74M520.5 469.9V475.55M522.5 469.23V477.45M531.5 467.39V477.18M532.5 468.52V479M534.5 469.3V478.35M535.5 469.56V479.3M536.5 469.44V479.75M537.5 469.67V478.9M539.5 465.38V478.96M547.5 467.88V479.52M551.5 468.05V479.46M553.5 465.68V478.01M554.5 465.43V479.84M556.5 467.04V478.8M557.5 466.93V479.59M569.5 469.69V476.86M571.5 470.32V478.09M578.5 468.51V477.82M579.5 467.47V478.62M580.5 468.49V477.71M582.5 466.95V476.59M586.5 465.44V475.72M602.5 471.05V478.81M603.5 469.43V477.39M608.5 469.85V478.18M609.5 468.75V477.51M611.5 467.79V478.41M616.5 465.08V476.17M618.5 464.62V474.64M620.5 466.09V476.26M622.5 468.1V477.21M624.5 464.47V479.25M625.5 465.35V477.86M626.5 464.28V476.63M628.5 464.67V477.91M629.5 467.04V477.69M639.5 467.99V475.76M641.5 469.43V477.86M642.5 470.48V477.12M643.5 469.34V476.5M649.5 468.84V474.73M661.5 466.51V478.65M662.5 465.31V479.83M671.5 465.09V476.72M673.5 465.15V476.14M677.5 467.68V478.07M679.5 470.57V474.98M687.5 465.76V478.46M690.5 466.1V476.23M692.5 464.17V478.05M696.5 465.6V479.72M698.5 469.17V478.34" stroke="#f9c4c4" stroke-width="0.8" fill="none"/></g>
<g style="mix-blend-mode:multiply"><path d="M524.7 221.62h1.8v1.6h-1.8zM225.7 77.86h1.8v1.6h-1.8zM584.5 329.44h1.8v1.6h-1.8zM668.22 533.1h1.8v1.6h-1.8zM393.14 173.7h1.8v1.6h-1.8zM177.86 533.1h1.8v1.6h-1.8zM321.38 233.6h1.8v1.6h-1.8zM704.1 461.22h1.8v1.6h-1.8zM488.82 233.6h1.8v1.6h-1.8zM285.5 101.82h1.8v1.6h-1.8zM680.18 413.3h1.8v1.6h-1.8zM345.3 161.72h1.8v1.6h-1.8zM704.1 101.82h1.8v1.6h-1.8zM680.18 353.4h1.8v1.6h-1.8zM632.34 113.8h1.8v1.6h-1.8zM393.14 53.9h1.8v1.6h-1.8zM141.98 113.8h1.8v1.6h-1.8zM644.3 137.76h1.8v1.6h-1.8zM644.3 485.18h1.8v1.6h-1.8zM165.9 389.34h1.8v1.6h-1.8zM668.22 473.2h1.8v1.6h-1.8zM201.78 533.1h1.8v1.6h-1.8zM345.3 245.58h1.8v1.6h-1.8zM704.1 185.68h1.8v1.6h-1.8zM321.38 413.3h1.8v1.6h-1.8zM464.9 425.28h1.8v1.6h-1.8zM596.46 473.2h1.8v1.6h-1.8zM321.38 353.4h1.8v1.6h-1.8zM464.9 65.88h1.8v1.6h-1.8zM488.82 353.4h1.8v1.6h-1.8zM285.5 221.62h1.8v1.6h-1.8zM237.66 113.8h1.8v1.6h-1.8zM656.26 173.7h1.8v1.6h-1.8zM106.1 425.28h1.8v1.6h-1.8zM165.9 113.8h1.8v1.6h-1.8zM345.3 125.78h1.8v1.6h-1.8zM106.1 65.88h1.8v1.6h-1.8zM297.46 533.1h1.8v1.6h-1.8zM584.5 173.7h1.8v1.6h-1.8zM285.5 365.38h1.8v1.6h-1.8zM225.7 425.28h1.8v1.6h-1.8zM464.9 149.74h1.8v1.6h-1.8zM285.5 305.48h1.8v1.6h-1.8zM524.7 209.64h1.8v1.6h-1.8zM165.9 257.56h1.8v1.6h-1.8zM225.7 65.88h1.8v1.6h-1.8zM704.1 305.48h1.8v1.6h-1.8zM656.26 53.9h1.8v1.6h-1.8zM524.7 497.16h1.8v1.6h-1.8zM177.86 233.6h1.8v1.6h-1.8zM644.3 401.32h1.8v1.6h-1.8zM584.5 53.9h1.8v1.6h-1.8zM261.58 113.8h1.8v1.6h-1.8zM500.78 473.2h1.8v1.6h-1.8zM524.7 89.84h1.8v1.6h-1.8zM464.9 329.44h1.8v1.6h-1.8zM608.42 413.3h1.8v1.6h-1.8zM536.66 233.6h1.8v1.6h-1.8zM464.9 269.54h1.8v1.6h-1.8zM608.42 353.4h1.8v1.6h-1.8zM357.26 113.8h1.8v1.6h-1.8zM201.78 233.6h1.8v1.6h-1.8zM106.1 329.44h1.8v1.6h-1.8zM584.5 437.26h1.8v1.6h-1.8zM345.3 233.6h1.8v1.6h-1.8zM106.1 269.54h1.8v1.6h-1.8zM704.1 173.7h1.8v1.6h-1.8zM524.7 473.2h1.8v1.6h-1.8zM273.54 233.6h1.8v1.6h-1.8zM225.7 329.44h1.8v1.6h-1.8zM644.3 209.64h1.8v1.6h-1.8zM417.06 533.1h1.8v1.6h-1.8zM165.9 461.22h1.8v1.6h-1.8zM225.7 269.54h1.8v1.6h-1.8zM297.46 233.6h1.8v1.6h-1.8zM285.5 497.16h1.8v1.6h-1.8zM285.5 53.9h1.8v1.6h-1.8zM165.9 101.82h1.8v1.6h-1.8zM536.66 353.4h1.8v1.6h-1.8zM704.1 53.9h1.8v1.6h-1.8zM584.5 161.72h1.8v1.6h-1.8zM452.94 113.8h1.8v1.6h-1.8zM213.74 53.9h1.8v1.6h-1.8zM429.02 413.3h1.8v1.6h-1.8zM464.9 137.76h1.8v1.6h-1.8zM464.9 485.18h1.8v1.6h-1.8zM644.3 89.84h1.8v1.6h-1.8zM369.22 233.6h1.8v1.6h-1.8zM524.7 197.66h1.8v1.6h-1.8zM345.3 353.4h1.8v1.6h-1.8zM512.74 533.1h1.8v1.6h-1.8zM165.9 185.68h1.8v1.6h-1.8zM584.5 245.58h1.8v1.6h-1.8zM285.5 437.26h1.8v1.6h-1.8zM524.7 341.42h1.8v1.6h-1.8zM548.62 113.8h1.8v1.6h-1.8zM309.42 53.9h1.8v1.6h-1.8zM704.1 437.26h1.8v1.6h-1.8zM189.82 413.3h1.8v1.6h-1.8zM476.86 113.8h1.8v1.6h-1.8zM225.7 137.76h1.8v1.6h-1.8zM225.7 485.18h1.8v1.6h-1.8zM644.3 473.2h1.8v1.6h-1.8zM369.22 413.3h1.8v1.6h-1.8zM345.3 77.86h1.8v1.6h-1.8zM584.5 125.78h1.8v1.6h-1.8zM369.22 353.4h1.8v1.6h-1.8zM429.02 113.8h1.8v1.6h-1.8zM165.9 305.48h1.8v1.6h-1.8zM704.1 161.72h1.8v1.6h-1.8zM464.9 401.32h1.8v1.6h-1.8zM333.34 53.9h1.8v1.6h-1.8zM632.34 173.7h1.8v1.6h-1.8zM345.3 509.14h1.8v1.6h-1.8zM417.06 233.6h1.8v1.6h-1.8zM130.02 473.2h1.8v1.6h-1.8zM141.98 173.7h1.8v1.6h-1.8zM644.3 197.66h1.8v1.6h-1.8zM393.14 413.3h1.8v1.6h-1.8zM106.1 401.32h1.8v1.6h-1.8zM393.14 353.4h1.8v1.6h-1.8zM189.82 113.8h1.8v1.6h-1.8zM285.5 341.42h1.8v1.6h-1.8zM512.74 233.6h1.8v1.6h-1.8zM225.7 401.32h1.8v1.6h-1.8zM141.98 53.9h1.8v1.6h-1.8zM381.18 473.2h1.8v1.6h-1.8zM285.5 281.52h1.8v1.6h-1.8zM237.66 173.7h1.8v1.6h-1.8zM249.62 533.1h1.8v1.6h-1.8zM596.46 113.8h1.8v1.6h-1.8zM656.26 233.6h1.8v1.6h-1.8zM440.98 533.1h1.8v1.6h-1.8zM165.9 173.7h1.8v1.6h-1.8zM704.1 125.78h1.8v1.6h-1.8zM584.5 233.6h1.8v1.6h-1.8zM644.3 317.46h1.8v1.6h-1.8zM680.18 173.7h1.8v1.6h-1.8zM237.66 53.9h1.8v1.6h-1.8zM345.3 425.28h1.8v1.6h-1.8zM165.9 53.9h1.8v1.6h-1.8zM345.3 65.88h1.8v1.6h-1.8zM249.62 473.2h1.8v1.6h-1.8zM464.9 245.58h1.8v1.6h-1.8zM656.26 413.3h1.8v1.6h-1.8zM440.98 473.2h1.8v1.6h-1.8zM464.9 533.1h1.8v1.6h-1.8zM464.9 89.84h1.8v1.6h-1.8zM656.26 353.4h1.8v1.6h-1.8zM106.1 245.58h1.8v1.6h-1.8zM584.5 353.4h1.8v1.6h-1.8zM524.7 449.24h1.8v1.6h-1.8zM345.3 149.74h1.8v1.6h-1.8zM106.1 533.1h1.8v1.6h-1.8zM106.1 89.84h1.8v1.6h-1.8zM261.58 53.9h1.8v1.6h-1.8zM620.38 53.9h1.8v1.6h-1.8zM500.78 113.8h1.8v1.6h-1.8zM524.7 389.34h1.8v1.6h-1.8zM165.9 437.26h1.8v1.6h-1.8zM225.7 245.58h1.8v1.6h-1.8zM560.58 533.1h1.8v1.6h-1.8zM225.7 533.1h1.8v1.6h-1.8zM225.7 89.84h1.8v1.6h-1.8zM464.9 473.2h1.8v1.6h-1.8zM584.5 77.86h1.8v1.6h-1.8zM357.26 53.9h1.8v1.6h-1.8zM153.94 473.2h1.8v1.6h-1.8zM524.7 113.8h1.8v1.6h-1.8zM165.9 161.72h1.8v1.6h-1.8zM345.3 269.54h1.8v1.6h-1.8zM452.94 173.7h1.8v1.6h-1.8zM285.5 413.3h1.8v1.6h-1.8zM584.5 509.14h1.8v1.6h-1.8zM225.7 473.2h1.8v1.6h-1.8zM704.1 413.3h1.8v1.6h-1.8zM285.5 353.4h1.8v1.6h-1.8zM524.7 257.56h1.8v1.6h-1.8zM213.74 413.3h1.8v1.6h-1.8zM704.1 353.4h1.8v1.6h-1.8zM644.3 449.24h1.8v1.6h-1.8zM213.74 353.4h1.8v1.6h-1.8zM452.94 53.9h1.8v1.6h-1.8zM644.3 389.34h1.8v1.6h-1.8zM692.14 473.2h1.8v1.6h-1.8zM680.18 533.1h1.8v1.6h-1.8zM476.86 173.7h1.8v1.6h-1.8zM106.1 233.6h1.8v1.6h-1.8zM572.54 113.8h1.8v1.6h-1.8zM524.7 521.12h1.8v1.6h-1.8zM464.9 377.36h1.8v1.6h-1.8zM309.42 413.3h1.8v1.6h-1.8zM165.9 125.78h1.8v1.6h-1.8zM345.3 137.76h1.8v1.6h-1.8zM345.3 485.18h1.8v1.6h-1.8zM704.1 77.86h1.8v1.6h-1.8zM309.42 353.4h1.8v1.6h-1.8zM464.9 317.46h1.8v1.6h-1.8zM560.58 233.6h1.8v1.6h-1.8zM548.62 53.9h1.8v1.6h-1.8zM225.7 233.6h1.8v1.6h-1.8zM106.1 377.36h1.8v1.6h-1.8zM644.3 113.8h1.8v1.6h-1.8zM429.02 173.7h1.8v1.6h-1.8zM321.38 533.1h1.8v1.6h-1.8zM476.86 53.9h1.8v1.6h-1.8zM488.82 533.1h1.8v1.6h-1.8zM106.1 317.46h1.8v1.6h-1.8zM584.5 425.28h1.8v1.6h-1.8zM118.06 473.2h1.8v1.6h-1.8zM405.1 413.3h1.8v1.6h-1.8zM632.34 233.6h1.8v1.6h-1.8zM584.5 65.88h1.8v1.6h-1.8zM225.7 377.36h1.8v1.6h-1.8zM285.5 257.56h1.8v1.6h-1.8zM524.7 461.22h1.8v1.6h-1.8zM333.34 413.3h1.8v1.6h-1.8zM225.7 317.46h1.8v1.6h-1.8zM524.7 101.82h1.8v1.6h-1.8zM130.02 113.8h1.8v1.6h-1.8zM189.82 173.7h1.8v1.6h-1.8zM321.38 473.2h1.8v1.6h-1.8zM584.5 149.74h1.8v1.6h-1.8zM488.82 473.2h1.8v1.6h-1.8zM345.3 401.32h1.8v1.6h-1.8zM644.3 521.12h1.8v1.6h-1.8zM524.7 185.68h1.8v1.6h-1.8zM141.98 413.3h1.8v1.6h-1.8zM632.34 353.4h1.8v1.6h-1.8zM381.18 113.8h1.8v1.6h-1.8zM141.98 353.4h1.8v1.6h-1.8zM680.18 233.6h1.8v1.6h-1.8zM668.22 53.9h1.8v1.6h-1.8zM464.9 509.14h1.8v1.6h-1.8zM405.1 113.8h1.8v1.6h-1.8zM596.46 53.9h1.8v1.6h-1.8zM608.42 533.1h1.8v1.6h-1.8zM704.1 425.28h1.8v1.6h-1.8zM333.34 113.8h1.8v1.6h-1.8zM237.66 413.3h1.8v1.6h-1.8zM106.1 509.14h1.8v1.6h-1.8zM704.1 65.88h1.8v1.6h-1.8zM584.5 269.54h1.8v1.6h-1.8zM644.3 461.22h1.8v1.6h-1.8zM285.5 461.22h1.8v1.6h-1.8zM524.7 365.38h1.8v1.6h-1.8zM237.66 353.4h1.8v1.6h-1.8zM165.9 413.3h1.8v1.6h-1.8zM644.3 101.82h1.8v1.6h-1.8zM524.7 305.48h1.8v1.6h-1.8zM165.9 353.4h1.8v1.6h-1.8zM225.7 509.14h1.8v1.6h-1.8zM464.9 449.24h1.8v1.6h-1.8zM500.78 173.7h1.8v1.6h-1.8zM464.9 389.34h1.8v1.6h-1.8zM536.66 533.1h1.8v1.6h-1.8zM106.1 449.24h1.8v1.6h-1.8zM261.58 413.3h1.8v1.6h-1.8zM285.5 185.68h1.8v1.6h-1.8zM620.38 413.3h1.8v1.6h-1.8zM177.86 473.2h1.8v1.6h-1.8zM261.58 353.4h1.8v1.6h-1.8zM165.9 77.86h1.8v1.6h-1.8zM345.3 89.84h1.8v1.6h-1.8zM345.3 533.1h1.8v1.6h-1.8zM500.78 53.9h1.8v1.6h-1.8zM584.5 137.76h1.8v1.6h-1.8zM225.7 449.24h1.8v1.6h-1.8zM584.5 485.18h1.8v1.6h-1.8zM644.3 221.62h1.8v1.6h-1.8zM285.5 329.44h1.8v1.6h-1.8zM273.54 533.1h1.8v1.6h-1.8zM225.7 389.34h1.8v1.6h-1.8zM704.1 329.44h1.8v1.6h-1.8zM285.5 269.54h1.8v1.6h-1.8zM524.7 173.7h1.8v1.6h-1.8zM357.26 413.3h1.8v1.6h-1.8zM536.66 473.2h1.8v1.6h-1.8zM704.1 269.54h1.8v1.6h-1.8zM644.3 365.38h1.8v1.6h-1.8zM357.26 353.4h1.8v1.6h-1.8zM153.94 113.8h1.8v1.6h-1.8zM201.78 473.2h1.8v1.6h-1.8zM608.42 233.6h1.8v1.6h-1.8zM644.3 305.48h1.8v1.6h-1.8zM345.3 473.2h1.8v1.6h-1.8zM369.22 533.1h1.8v1.6h-1.8zM524.7 53.9h1.8v1.6h-1.8zM106.1 149.74h1.8v1.6h-1.8zM620.38 113.8h1.8v1.6h-1.8zM464.9 293.5h1.8v1.6h-1.8zM273.54 473.2h1.8v1.6h-1.8zM297.46 473.2h1.8v1.6h-1.8zM452.94 413.3h1.8v1.6h-1.8zM225.7 149.74h1.8v1.6h-1.8zM464.9 521.12h1.8v1.6h-1.8zM106.1 293.5h1.8v1.6h-1.8zM572.54 173.7h1.8v1.6h-1.8zM584.5 401.32h1.8v1.6h-1.8zM692.14 113.8h1.8v1.6h-1.8zM452.94 353.4h1.8v1.6h-1.8zM369.22 473.2h1.8v1.6h-1.8zM524.7 437.26h1.8v1.6h-1.8zM393.14 533.1h1.8v1.6h-1.8zM106.1 521.12h1.8v1.6h-1.8zM225.7 293.5h1.8v1.6h-1.8zM429.02 233.6h1.8v1.6h-1.8zM285.5 173.7h1.8v1.6h-1.8zM165.9 425.28h1.8v1.6h-1.8zM548.62 413.3h1.8v1.6h-1.8zM572.54 53.9h1.8v1.6h-1.8zM213.74 173.7h1.8v1.6h-1.8zM165.9 65.88h1.8v1.6h-1.8zM225.7 521.12h1.8v1.6h-1.8zM548.62 353.4h1.8v1.6h-1.8zM476.86 413.3h1.8v1.6h-1.8zM345.3 377.36h1.8v1.6h-1.8zM476.86 353.4h1.8v1.6h-1.8zM644.3 497.16h1.8v1.6h-1.8zM644.3 53.9h1.8v1.6h-1.8zM118.06 113.8h1.8v1.6h-1.8zM524.7 161.72h1.8v1.6h-1.8zM345.3 317.46h1.8v1.6h-1.8zM189.82 233.6h1.8v1.6h-1.8zM309.42 173.7h1.8v1.6h-1.8zM429.02 353.4h1.8v1.6h-1.8zM704.1 401.32h1.8v1.6h-1.8zM130.02 53.9h1.8v1.6h-1.8zM417.06 473.2h1.8v1.6h-1.8zM106.1 137.76h1.8v1.6h-1.8zM106.1 485.18h1.8v1.6h-1.8zM381.18 173.7h1.8v1.6h-1.8zM656.26 533.1h1.8v1.6h-1.8zM644.3 437.26h1.8v1.6h-1.8zM584.5 533.1h1.8v1.6h-1.8zM464.9 221.62h1.8v1.6h-1.8zM584.5 89.84h1.8v1.6h-1.8zM405.1 173.7h1.8v1.6h-1.8zM524.7 281.52h1.8v1.6h-1.8zM165.9 329.44h1.8v1.6h-1.8zM668.22 413.3h1.8v1.6h-1.8zM189.82 353.4h1.8v1.6h-1.8zM524.7 125.78h1.8v1.6h-1.8zM333.34 173.7h1.8v1.6h-1.8zM165.9 269.54h1.8v1.6h-1.8zM668.22 353.4h1.8v1.6h-1.8zM393.14 233.6h1.8v1.6h-1.8zM106.1 221.62h1.8v1.6h-1.8zM381.18 53.9h1.8v1.6h-1.8zM596.46 413.3h1.8v1.6h-1.8zM464.9 365.38h1.8v1.6h-1.8zM512.74 473.2h1.8v1.6h-1.8zM596.46 353.4h1.8v1.6h-1.8zM464.9 305.48h1.8v1.6h-1.8zM656.26 473.2h1.8v1.6h-1.8zM405.1 53.9h1.8v1.6h-1.8zM285.5 161.72h1.8v1.6h-1.8zM225.7 221.62h1.8v1.6h-1.8zM106.1 365.38h1.8v1.6h-1.8zM584.5 473.2h1.8v1.6h-1.8zM225.7 365.38h1.8v1.6h-1.8zM285.5 245.58h1.8v1.6h-1.8zM249.62 53.9h1.8v1.6h-1.8zM225.7 305.48h1.8v1.6h-1.8zM704.1 245.58h1.8v1.6h-1.8zM285.5 533.1h1.8v1.6h-1.8zM644.3 341.42h1.8v1.6h-1.8zM668.22 113.8h1.8v1.6h-1.8zM704.1 533.1h1.8v1.6h-1.8zM177.86 113.8h1.8v1.6h-1.8zM644.3 281.52h1.8v1.6h-1.8zM213.74 533.1h1.8v1.6h-1.8zM345.3 449.24h1.8v1.6h-1.8zM500.78 413.3h1.8v1.6h-1.8zM285.5 125.78h1.8v1.6h-1.8zM345.3 389.34h1.8v1.6h-1.8zM500.78 353.4h1.8v1.6h-1.8zM464.9 209.64h1.8v1.6h-1.8zM309.42 533.1h1.8v1.6h-1.8zM464.9 497.16h1.8v1.6h-1.8zM584.5 377.36h1.8v1.6h-1.8zM201.78 113.8h1.8v1.6h-1.8zM106.1 209.64h1.8v1.6h-1.8zM261.58 173.7h1.8v1.6h-1.8zM584.5 317.46h1.8v1.6h-1.8zM620.38 173.7h1.8v1.6h-1.8zM524.7 413.3h1.8v1.6h-1.8zM153.94 53.9h1.8v1.6h-1.8zM106.1 497.16h1.8v1.6h-1.8zM524.7 353.4h1.8v1.6h-1.8zM165.9 401.32h1.8v1.6h-1.8zM225.7 209.64h1.8v1.6h-1.8zM572.54 233.6h1.8v1.6h-1.8zM225.7 497.16h1.8v1.6h-1.8zM297.46 113.8h1.8v1.6h-1.8zM357.26 173.7h1.8v1.6h-1.8zM285.5 233.6h1.8v1.6h-1.8zM345.3 293.5h1.8v1.6h-1.8zM704.1 233.6h1.8v1.6h-1.8zM692.14 53.9h1.8v1.6h-1.8zM524.7 77.86h1.8v1.6h-1.8zM213.74 233.6h1.8v1.6h-1.8zM572.54 413.3h1.8v1.6h-1.8zM632.34 533.1h1.8v1.6h-1.8zM345.3 521.12h1.8v1.6h-1.8zM285.5 377.36h1.8v1.6h-1.8zM141.98 533.1h1.8v1.6h-1.8zM106.1 473.2h1.8v1.6h-1.8zM704.1 377.36h1.8v1.6h-1.8zM118.06 173.7h1.8v1.6h-1.8zM572.54 353.4h1.8v1.6h-1.8zM704.1 317.46h1.8v1.6h-1.8zM644.3 413.3h1.8v1.6h-1.8zM560.58 473.2h1.8v1.6h-1.8zM309.42 233.6h1.8v1.6h-1.8zM464.9 197.66h1.8v1.6h-1.8zM644.3 353.4h1.8v1.6h-1.8zM118.06 53.9h1.8v1.6h-1.8zM237.66 533.1h1.8v1.6h-1.8zM165.9 245.58h1.8v1.6h-1.8zM632.34 473.2h1.8v1.6h-1.8zM106.1 197.66h1.8v1.6h-1.8zM464.9 341.42h1.8v1.6h-1.8zM165.9 533.1h1.8v1.6h-1.8zM548.62 173.7h1.8v1.6h-1.8zM130.02 413.3h1.8v1.6h-1.8zM464.9 281.52h1.8v1.6h-1.8zM405.1 233.6h1.8v1.6h-1.8zM417.06 113.8h1.8v1.6h-1.8zM130.02 353.4h1.8v1.6h-1.8zM225.7 197.66h1.8v1.6h-1.8zM106.1 341.42h1.8v1.6h-1.8zM285.5 77.86h1.8v1.6h-1.8zM584.5 449.24h1.8v1.6h-1.8zM333.34 233.6h1.8v1.6h-1.8zM106.1 281.52h1.8v1.6h-1.8zM488.82 53.9h1.8v1.6h-1.8zM584.5 389.34h1.8v1.6h-1.8zM261.58 533.1h1.8v1.6h-1.8zM225.7 341.42h1.8v1.6h-1.8zM381.18 413.3h1.8v1.6h-1.8zM524.7 425.28h1.8v1.6h-1.8zM512.74 113.8h1.8v1.6h-1.8zM225.7 281.52h1.8v1.6h-1.8zM381.18 353.4h1.8v1.6h-1.8zM285.5 509.14h1.8v1.6h-1.8zM524.7 65.88h1.8v1.6h-1.8zM680.18 473.2h1.8v1.6h-1.8zM345.3 221.62h1.8v1.6h-1.8zM704.1 509.14h1.8v1.6h-1.8zM141.98 233.6h1.8v1.6h-1.8zM644.3 257.56h1.8v1.6h-1.8zM405.1 353.4h1.8v1.6h-1.8zM357.26 533.1h1.8v1.6h-1.8zM333.34 353.4h1.8v1.6h-1.8zM345.3 365.38h1.8v1.6h-1.8zM668.22 173.7h1.8v1.6h-1.8zM345.3 305.48h1.8v1.6h-1.8zM249.62 413.3h1.8v1.6h-1.8zM177.86 173.7h1.8v1.6h-1.8zM237.66 233.6h1.8v1.6h-1.8zM596.46 173.7h1.8v1.6h-1.8zM440.98 413.3h1.8v1.6h-1.8zM704.1 449.24h1.8v1.6h-1.8zM165.9 233.6h1.8v1.6h-1.8zM584.5 293.5h1.8v1.6h-1.8zM177.86 53.9h1.8v1.6h-1.8zM452.94 533.1h1.8v1.6h-1.8zM285.5 425.28h1.8v1.6h-1.8zM524.7 329.44h1.8v1.6h-1.8zM165.9 377.36h1.8v1.6h-1.8zM584.5 521.12h1.8v1.6h-1.8zM285.5 65.88h1.8v1.6h-1.8zM524.7 269.54h1.8v1.6h-1.8zM165.9 317.46h1.8v1.6h-1.8zM201.78 173.7h1.8v1.6h-1.8zM261.58 233.6h1.8v1.6h-1.8zM620.38 233.6h1.8v1.6h-1.8zM249.62 113.8h1.8v1.6h-1.8zM548.62 533.1h1.8v1.6h-1.8zM153.94 413.3h1.8v1.6h-1.8zM285.5 149.74h1.8v1.6h-1.8zM440.98 113.8h1.8v1.6h-1.8zM201.78 53.9h1.8v1.6h-1.8zM345.3 209.64h1.8v1.6h-1.8zM153.94 353.4h1.8v1.6h-1.8zM704.1 149.74h1.8v1.6h-1.8zM476.86 533.1h1.8v1.6h-1.8zM297.46 173.7h1.8v1.6h-1.8zM608.42 473.2h1.8v1.6h-1.8zM357.26 233.6h1.8v1.6h-1.8zM345.3 497.16h1.8v1.6h-1.8zM644.3 185.68h1.8v1.6h-1.8zM285.5 293.5h1.8v1.6h-1.8zM273.54 53.9h1.8v1.6h-1.8zM106.1 389.34h1.8v1.6h-1.8zM704.1 293.5h1.8v1.6h-1.8zM620.38 353.4h1.8v1.6h-1.8zM429.02 533.1h1.8v1.6h-1.8zM297.46 53.9h1.8v1.6h-1.8zM644.3 329.44h1.8v1.6h-1.8zM692.14 413.3h1.8v1.6h-1.8zM704.1 521.12h1.8v1.6h-1.8zM464.9 113.8h1.8v1.6h-1.8zM644.3 269.54h1.8v1.6h-1.8zM692.14 353.4h1.8v1.6h-1.8zM452.94 233.6h1.8v1.6h-1.8zM165.9 509.14h1.8v1.6h-1.8zM106.1 113.8h1.8v1.6h-1.8zM189.82 533.1h1.8v1.6h-1.8zM584.5 221.62h1.8v1.6h-1.8zM464.9 257.56h1.8v1.6h-1.8zM429.02 473.2h1.8v1.6h-1.8zM560.58 113.8h1.8v1.6h-1.8zM596.46 533.1h1.8v1.6h-1.8zM225.7 113.8h1.8v1.6h-1.8zM106.1 257.56h1.8v1.6h-1.8zM584.5 365.38h1.8v1.6h-1.8zM118.06 413.3h1.8v1.6h-1.8zM548.62 233.6h1.8v1.6h-1.8zM584.5 305.48h1.8v1.6h-1.8zM118.06 353.4h1.8v1.6h-1.8zM524.7 401.32h1.8v1.6h-1.8zM417.06 173.7h1.8v1.6h-1.8zM165.9 449.24h1.8v1.6h-1.8zM225.7 257.56h1.8v1.6h-1.8zM476.86 233.6h1.8v1.6h-1.8zM189.82 473.2h1.8v1.6h-1.8zM285.5 137.76h1.8v1.6h-1.8zM285.5 485.18h1.8v1.6h-1.8zM345.3 197.66h1.8v1.6h-1.8zM704.1 137.76h1.8v1.6h-1.8zM704.1 485.18h1.8v1.6h-1.8zM644.3 173.7h1.8v1.6h-1.8zM488.82 413.3h1.8v1.6h-1.8zM417.06 53.9h1.8v1.6h-1.8zM345.3 341.42h1.8v1.6h-1.8zM512.74 173.7h1.8v1.6h-1.8zM345.3 281.52h1.8v1.6h-1.8zM704.1 221.62h1.8v1.6h-1.8zM464.9 461.22h1.8v1.6h-1.8zM500.78 533.1h1.8v1.6h-1.8zM464.9 101.82h1.8v1.6h-1.8zM680.18 113.8h1.8v1.6h-1.8zM130.02 173.7h1.8v1.6h-1.8zM512.74 53.9h1.8v1.6h-1.8zM393.14 473.2h1.8v1.6h-1.8zM106.1 461.22h1.8v1.6h-1.8zM704.1 365.38h1.8v1.6h-1.8zM165.9 149.74h1.8v1.6h-1.8zM668.22 233.6h1.8v1.6h-1.8zM106.1 101.82h1.8v1.6h-1.8zM584.5 209.64h1.8v1.6h-1.8zM285.5 401.32h1.8v1.6h-1.8zM596.46 233.6h1.8v1.6h-1.8zM584.5 497.16h1.8v1.6h-1.8zM225.7 461.22h1.8v1.6h-1.8zM464.9 185.68h1.8v1.6h-1.8zM524.7 245.58h1.8v1.6h-1.8zM321.38 113.8h1.8v1.6h-1.8zM165.9 293.5h1.8v1.6h-1.8zM225.7 101.82h1.8v1.6h-1.8zM488.82 113.8h1.8v1.6h-1.8zM524.7 533.1h1.8v1.6h-1.8zM106.1 185.68h1.8v1.6h-1.8zM165.9 521.12h1.8v1.6h-1.8zM177.86 413.3h1.8v1.6h-1.8zM225.7 185.68h1.8v1.6h-1.8zM177.86 353.4h1.8v1.6h-1.8zM644.3 161.72h1.8v1.6h-1.8zM249.62 173.7h1.8v1.6h-1.8zM285.5 209.64h1.8v1.6h-1.8zM440.98 173.7h1.8v1.6h-1.8zM536.66 413.3h1.8v1.6h-1.8zM106.1 305.48h1.8v1.6h-1.8zM704.1 209.64h1.8v1.6h-1.8zM500.78 233.6h1.8v1.6h-1.8zM572.54 533.1h1.8v1.6h-1.8zM704.1 497.16h1.8v1.6h-1.8zM201.78 413.3h1.8v1.6h-1.8zM644.3 245.58h1.8v1.6h-1.8zM201.78 353.4h1.8v1.6h-1.8zM608.42 113.8h1.8v1.6h-1.8zM345.3 413.3h1.8v1.6h-1.8zM644.3 533.1h1.8v1.6h-1.8zM285.5 89.84h1.8v1.6h-1.8zM440.98 53.9h1.8v1.6h-1.8zM165.9 137.76h1.8v1.6h-1.8zM165.9 485.18h1.8v1.6h-1.8zM704.1 89.84h1.8v1.6h-1.8zM584.5 197.66h1.8v1.6h-1.8zM273.54 413.3h1.8v1.6h-1.8zM273.54 353.4h1.8v1.6h-1.8zM464.9 173.7h1.8v1.6h-1.8zM644.3 125.78h1.8v1.6h-1.8zM297.46 413.3h1.8v1.6h-1.8zM524.7 233.6h1.8v1.6h-1.8zM572.54 473.2h1.8v1.6h-1.8zM297.46 353.4h1.8v1.6h-1.8zM584.5 341.42h1.8v1.6h-1.8zM165.9 221.62h1.8v1.6h-1.8zM153.94 173.7h1.8v1.6h-1.8zM130.02 533.1h1.8v1.6h-1.8zM106.1 173.7h1.8v1.6h-1.8zM584.5 281.52h1.8v1.6h-1.8zM536.66 113.8h1.8v1.6h-1.8zM285.5 473.2h1.8v1.6h-1.8zM524.7 377.36h1.8v1.6h-1.8zM464.9 53.9h1.8v1.6h-1.8zM704.1 473.2h1.8v1.6h-1.8zM524.7 317.46h1.8v1.6h-1.8zM560.58 173.7h1.8v1.6h-1.8zM213.74 473.2h1.8v1.6h-1.8zM165.9 365.38h1.8v1.6h-1.8zM225.7 173.7h1.8v1.6h-1.8zM345.3 113.8h1.8v1.6h-1.8zM106.1 53.9h1.8v1.6h-1.8zM381.18 533.1h1.8v1.6h-1.8zM273.54 113.8h1.8v1.6h-1.8zM405.1 533.1h1.8v1.6h-1.8zM692.14 173.7h1.8v1.6h-1.8zM560.58 53.9h1.8v1.6h-1.8zM285.5 197.66h1.8v1.6h-1.8zM225.7 53.9h1.8v1.6h-1.8zM345.3 257.56h1.8v1.6h-1.8zM704.1 197.66h1.8v1.6h-1.8zM309.42 473.2h1.8v1.6h-1.8zM464.9 437.26h1.8v1.6h-1.8zM333.34 533.1h1.8v1.6h-1.8zM644.3 233.6h1.8v1.6h-1.8zM632.34 53.9h1.8v1.6h-1.8zM106.1 437.26h1.8v1.6h-1.8zM704.1 341.42h1.8v1.6h-1.8zM369.22 113.8h1.8v1.6h-1.8zM417.06 413.3h1.8v1.6h-1.8zM704.1 281.52h1.8v1.6h-1.8zM644.3 377.36h1.8v1.6h-1.8zM417.06 353.4h1.8v1.6h-1.8zM405.1 473.2h1.8v1.6h-1.8zM225.7 437.26h1.8v1.6h-1.8zM464.9 161.72h1.8v1.6h-1.8zM285.5 317.46h1.8v1.6h-1.8zM333.34 473.2h1.8v1.6h-1.8zM130.02 233.6h1.8v1.6h-1.8zM524.7 509.14h1.8v1.6h-1.8zM165.9 209.64h1.8v1.6h-1.8zM106.1 161.72h1.8v1.6h-1.8zM512.74 413.3h1.8v1.6h-1.8zM165.9 497.16h1.8v1.6h-1.8zM393.14 113.8h1.8v1.6h-1.8zM512.74 353.4h1.8v1.6h-1.8zM680.18 53.9h1.8v1.6h-1.8zM321.38 173.7h1.8v1.6h-1.8zM345.3 461.22h1.8v1.6h-1.8zM225.7 161.72h1.8v1.6h-1.8zM488.82 173.7h1.8v1.6h-1.8zM381.18 233.6h1.8v1.6h-1.8zM584.5 413.3h1.8v1.6h-1.8zM141.98 473.2h1.8v1.6h-1.8zM165.9 89.84h1.8v1.6h-1.8zM345.3 101.82h1.8v1.6h-1.8zM153.94 533.1h1.8v1.6h-1.8zM464.9 125.78h1.8v1.6h-1.8zM644.3 77.86h1.8v1.6h-1.8zM321.38 53.9h1.8v1.6h-1.8zM345.3 185.68h1.8v1.6h-1.8zM237.66 473.2h1.8v1.6h-1.8zM106.1 125.78h1.8v1.6h-1.8zM620.38 533.1h1.8v1.6h-1.8zM249.62 233.6h1.8v1.6h-1.8zM165.9 473.2h1.8v1.6h-1.8zM644.3 509.14h1.8v1.6h-1.8zM440.98 233.6h1.8v1.6h-1.8zM225.7 125.78h1.8v1.6h-1.8zM345.3 329.44h1.8v1.6h-1.8zM656.26 113.8h1.8v1.6h-1.8zM692.14 533.1h1.8v1.6h-1.8zM584.5 113.8h1.8v1.6h-1.8zM608.42 173.7h1.8v1.6h-1.8zM261.58 473.2h1.8v1.6h-1.8zM524.7 149.74h1.8v1.6h-1.8zM620.38 473.2h1.8v1.6h-1.8zM165.9 197.66h1.8v1.6h-1.8zM584.5 257.56h1.8v1.6h-1.8zM285.5 449.24h1.8v1.6h-1.8zM249.62 353.4h1.8v1.6h-1.8zM464.9 233.6h1.8v1.6h-1.8zM285.5 389.34h1.8v1.6h-1.8zM524.7 293.5h1.8v1.6h-1.8zM440.98 353.4h1.8v1.6h-1.8zM165.9 341.42h1.8v1.6h-1.8zM608.42 53.9h1.8v1.6h-1.8zM704.1 389.34h1.8v1.6h-1.8zM118.06 533.1h1.8v1.6h-1.8zM357.26 473.2h1.8v1.6h-1.8zM165.9 281.52h1.8v1.6h-1.8zM153.94 233.6h1.8v1.6h-1.8zM644.3 425.28h1.8v1.6h-1.8zM536.66 173.7h1.8v1.6h-1.8zM644.3 65.88h1.8v1.6h-1.8zM464.9 413.3h1.8v1.6h-1.8zM285.5 113.8h1.8v1.6h-1.8zM345.3 173.7h1.8v1.6h-1.8zM704.1 113.8h1.8v1.6h-1.8zM464.9 353.4h1.8v1.6h-1.8zM536.66 53.9h1.8v1.6h-1.8zM213.74 113.8h1.8v1.6h-1.8zM273.54 173.7h1.8v1.6h-1.8zM106.1 413.3h1.8v1.6h-1.8zM644.3 149.74h1.8v1.6h-1.8zM692.14 233.6h1.8v1.6h-1.8zM452.94 473.2h1.8v1.6h-1.8zM106.1 353.4h1.8v1.6h-1.8zM704.1 257.56h1.8v1.6h-1.8zM584.5 461.22h1.8v1.6h-1.8zM429.02 53.9h1.8v1.6h-1.8zM345.3 53.9h1.8v1.6h-1.8zM560.58 413.3h1.8v1.6h-1.8zM584.5 101.82h1.8v1.6h-1.8zM225.7 413.3h1.8v1.6h-1.8zM644.3 293.5h1.8v1.6h-1.8zM560.58 353.4h1.8v1.6h-1.8zM309.42 113.8h1.8v1.6h-1.8zM225.7 353.4h1.8v1.6h-1.8zM464.9 77.86h1.8v1.6h-1.8zM369.22 173.7h1.8v1.6h-1.8zM524.7 137.76h1.8v1.6h-1.8zM524.7 485.18h1.8v1.6h-1.8zM632.34 413.3h1.8v1.6h-1.8zM548.62 473.2h1.8v1.6h-1.8zM285.5 521.12h1.8v1.6h-1.8zM106.1 77.86h1.8v1.6h-1.8zM584.5 185.68h1.8v1.6h-1.8zM189.82 53.9h1.8v1.6h-1.8zM476.86 473.2h1.8v1.6h-1.8zM118.06 233.6h1.8v1.6h-1.8zM345.3 437.26h1.8v1.6h-1.8zM369.22 53.9h1.8v1.6h-1.8z" fill="#767676"/><line x1="107" y1="294.3" x2="705" y2="294.3" stroke="#8a8a8a" stroke-width="1.6" stroke-dasharray="1.2 1.2"/><line x1="406" y1="54.7" x2="406" y2="533.9" stroke="#8a8a8a" stroke-width="1.6" stroke-dasharray="1.2 1.2"/><path d="M166.2 285.4h1.2v1h-1.2zM166.2 287.8h1.2v1h-1.2zM166.2 290.2h1.2v1h-1.2zM166.2 292.6h1.2v1h-1.2zM166.2 295h1.2v1h-1.2zM166.2 297.4h1.2v1h-1.2zM166.2 299.8h1.2v1h-1.2zM166.2 302.2h1.2v1h-1.2zM226 285.4h1.2v1h-1.2zM226 287.8h1.2v1h-1.2zM226 290.2h1.2v1h-1.2zM226 292.6h1.2v1h-1.2zM226 295h1.2v1h-1.2zM226 297.4h1.2v1h-1.2zM226 299.8h1.2v1h-1.2zM226 302.2h1.2v1h-1.2zM285.8 285.4h1.2v1h-1.2zM285.8 287.8h1.2v1h-1.2zM285.8 290.2h1.2v1h-1.2zM285.8 292.6h1.2v1h-1.2zM285.8 295h1.2v1h-1.2zM285.8 297.4h1.2v1h-1.2zM285.8 299.8h1.2v1h-1.2zM285.8 302.2h1.2v1h-1.2zM345.6 285.4h1.2v1h-1.2zM345.6 287.8h1.2v1h-1.2zM345.6 290.2h1.2v1h-1.2zM345.6 292.6h1.2v1h-1.2zM345.6 295h1.2v1h-1.2zM345.6 297.4h1.2v1h-1.2zM345.6 299.8h1.2v1h-1.2zM345.6 302.2h1.2v1h-1.2zM465.2 285.4h1.2v1h-1.2zM465.2 287.8h1.2v1h-1.2zM465.2 290.2h1.2v1h-1.2zM465.2 292.6h1.2v1h-1.2zM465.2 295h1.2v1h-1.2zM465.2 297.4h1.2v1h-1.2zM465.2 299.8h1.2v1h-1.2zM465.2 302.2h1.2v1h-1.2zM525 285.4h1.2v1h-1.2zM525 287.8h1.2v1h-1.2zM525 290.2h1.2v1h-1.2zM525 292.6h1.2v1h-1.2zM525 295h1.2v1h-1.2zM525 297.4h1.2v1h-1.2zM525 299.8h1.2v1h-1.2zM525 302.2h1.2v1h-1.2zM584.8 285.4h1.2v1h-1.2zM584.8 287.8h1.2v1h-1.2zM584.8 290.2h1.2v1h-1.2zM584.8 292.6h1.2v1h-1.2zM584.8 295h1.2v1h-1.2zM584.8 297.4h1.2v1h-1.2zM584.8 299.8h1.2v1h-1.2zM584.8 302.2h1.2v1h-1.2zM644.6 285.4h1.2v1h-1.2zM644.6 287.8h1.2v1h-1.2zM644.6 290.2h1.2v1h-1.2zM644.6 292.6h1.2v1h-1.2zM644.6 295h1.2v1h-1.2zM644.6 297.4h1.2v1h-1.2zM644.6 299.8h1.2v1h-1.2zM644.6 302.2h1.2v1h-1.2zM397.1 114h1v1.2h-1zM399.5 114h1v1.2h-1zM401.9 114h1v1.2h-1zM404.3 114h1v1.2h-1zM406.7 114h1v1.2h-1zM409.1 114h1v1.2h-1zM411.5 114h1v1.2h-1zM413.9 114h1v1.2h-1zM397.1 173.9h1v1.2h-1zM399.5 173.9h1v1.2h-1zM401.9 173.9h1v1.2h-1zM404.3 173.9h1v1.2h-1zM406.7 173.9h1v1.2h-1zM409.1 173.9h1v1.2h-1zM411.5 173.9h1v1.2h-1zM413.9 173.9h1v1.2h-1zM397.1 233.8h1v1.2h-1zM399.5 233.8h1v1.2h-1zM401.9 233.8h1v1.2h-1zM404.3 233.8h1v1.2h-1zM406.7 233.8h1v1.2h-1zM409.1 233.8h1v1.2h-1zM411.5 233.8h1v1.2h-1zM413.9 233.8h1v1.2h-1zM397.1 353.6h1v1.2h-1zM399.5 353.6h1v1.2h-1zM401.9 353.6h1v1.2h-1zM404.3 353.6h1v1.2h-1zM406.7 353.6h1v1.2h-1zM409.1 353.6h1v1.2h-1zM411.5 353.6h1v1.2h-1zM413.9 353.6h1v1.2h-1zM397.1 413.5h1v1.2h-1zM399.5 413.5h1v1.2h-1zM401.9 413.5h1v1.2h-1zM404.3 413.5h1v1.2h-1zM406.7 413.5h1v1.2h-1zM409.1 413.5h1v1.2h-1zM411.5 413.5h1v1.2h-1zM413.9 413.5h1v1.2h-1zM397.1 473.4h1v1.2h-1zM399.5 473.4h1v1.2h-1zM401.9 473.4h1v1.2h-1zM404.3 473.4h1v1.2h-1zM406.7 473.4h1v1.2h-1zM409.1 473.4h1v1.2h-1zM411.5 473.4h1v1.2h-1zM413.9 473.4h1v1.2h-1zM166.2 57.8h1.2v1h-1.2z M166.2 529.8h1.2v1h-1.2zM166.2 60.2h1.2v1h-1.2z M166.2 527.4h1.2v1h-1.2zM166.2 62.6h1.2v1h-1.2z M166.2 525h1.2v1h-1.2zM226 57.8h1.2v1h-1.2z M226 529.8h1.2v1h-1.2zM226 60.2h1.2v1h-1.2z M226 527.4h1.2v1h-1.2zM226 62.6h1.2v1h-1.2z M226 525h1.2v1h-1.2zM285.8 57.8h1.2v1h-1.2z M285.8 529.8h1.2v1h-1.2zM285.8 60.2h1.2v1h-1.2z M285.8 527.4h1.2v1h-1.2zM285.8 62.6h1.2v1h-1.2z M285.8 525h1.2v1h-1.2zM345.6 57.8h1.2v1h-1.2z M345.6 529.8h1.2v1h-1.2zM345.6 60.2h1.2v1h-1.2z M345.6 527.4h1.2v1h-1.2zM345.6 62.6h1.2v1h-1.2z M345.6 525h1.2v1h-1.2zM405.4 57.8h1.2v1h-1.2z M405.4 529.8h1.2v1h-1.2zM405.4 60.2h1.2v1h-1.2z M405.4 527.4h1.2v1h-1.2zM405.4 62.6h1.2v1h-1.2z M405.4 525h1.2v1h-1.2zM465.2 57.8h1.2v1h-1.2z M465.2 529.8h1.2v1h-1.2zM465.2 60.2h1.2v1h-1.2z M465.2 527.4h1.2v1h-1.2zM465.2 62.6h1.2v1h-1.2z M465.2 525h1.2v1h-1.2zM525 57.8h1.2v1h-1.2z M525 529.8h1.2v1h-1.2zM525 60.2h1.2v1h-1.2z M525 527.4h1.2v1h-1.2zM525 62.6h1.2v1h-1.2z M525 525h1.2v1h-1.2zM584.8 57.8h1.2v1h-1.2z M584.8 529.8h1.2v1h-1.2zM584.8 60.2h1.2v1h-1.2z M584.8 527.4h1.2v1h-1.2zM584.8 62.6h1.2v1h-1.2z M584.8 525h1.2v1h-1.2zM644.6 57.8h1.2v1h-1.2z M644.6 529.8h1.2v1h-1.2zM644.6 60.2h1.2v1h-1.2z M644.6 527.4h1.2v1h-1.2zM644.6 62.6h1.2v1h-1.2z M644.6 525h1.2v1h-1.2zM110.1 114h1v1.2h-1z M700.9 114h1v1.2h-1zM112.5 114h1v1.2h-1z M698.5 114h1v1.2h-1zM114.9 114h1v1.2h-1z M696.1 114h1v1.2h-1zM110.1 173.9h1v1.2h-1z M700.9 173.9h1v1.2h-1zM112.5 173.9h1v1.2h-1z M698.5 173.9h1v1.2h-1zM114.9 173.9h1v1.2h-1z M696.1 173.9h1v1.2h-1zM110.1 233.8h1v1.2h-1z M700.9 233.8h1v1.2h-1zM112.5 233.8h1v1.2h-1z M698.5 233.8h1v1.2h-1zM114.9 233.8h1v1.2h-1z M696.1 233.8h1v1.2h-1zM110.1 293.7h1v1.2h-1z M700.9 293.7h1v1.2h-1zM112.5 293.7h1v1.2h-1z M698.5 293.7h1v1.2h-1zM114.9 293.7h1v1.2h-1z M696.1 293.7h1v1.2h-1zM110.1 353.6h1v1.2h-1z M700.9 353.6h1v1.2h-1zM112.5 353.6h1v1.2h-1z M698.5 353.6h1v1.2h-1zM114.9 353.6h1v1.2h-1z M696.1 353.6h1v1.2h-1zM110.1 413.5h1v1.2h-1z M700.9 413.5h1v1.2h-1zM112.5 413.5h1v1.2h-1z M698.5 413.5h1v1.2h-1zM114.9 413.5h1v1.2h-1z M696.1 413.5h1v1.2h-1zM110.1 473.4h1v1.2h-1z M700.9 473.4h1v1.2h-1zM112.5 473.4h1v1.2h-1z M698.5 473.4h1v1.2h-1zM114.9 473.4h1v1.2h-1z M696.1 473.4h1v1.2h-1z" fill="#777"/><path d="M118.36 289.8h1.2v1.3h-1.2z M118.36 297.5h1.2v1.3h-1.2z M118.21 292.8h1.5v3h-1.5zM130.32 289.8h1.2v1.3h-1.2z M130.32 297.5h1.2v1.3h-1.2z M130.17 292.8h1.5v3h-1.5zM142.28 289.8h1.2v1.3h-1.2z M142.28 297.5h1.2v1.3h-1.2z M142.13 292.8h1.5v3h-1.5zM154.24 289.8h1.2v1.3h-1.2z M154.24 297.5h1.2v1.3h-1.2z M154.09 292.8h1.5v3h-1.5zM178.16 289.8h1.2v1.3h-1.2z M178.16 297.5h1.2v1.3h-1.2z M178.01 292.8h1.5v3h-1.5zM190.12 289.8h1.2v1.3h-1.2z M190.12 297.5h1.2v1.3h-1.2z M189.97 292.8h1.5v3h-1.5zM202.08 289.8h1.2v1.3h-1.2z M202.08 297.5h1.2v1.3h-1.2z M201.93 292.8h1.5v3h-1.5zM214.04 289.8h1.2v1.3h-1.2z M214.04 297.5h1.2v1.3h-1.2z M213.89 292.8h1.5v3h-1.5zM237.96 289.8h1.2v1.3h-1.2z M237.96 297.5h1.2v1.3h-1.2z M237.81 292.8h1.5v3h-1.5zM249.92 289.8h1.2v1.3h-1.2z M249.92 297.5h1.2v1.3h-1.2z M249.77 292.8h1.5v3h-1.5zM261.88 289.8h1.2v1.3h-1.2z M261.88 297.5h1.2v1.3h-1.2z M261.73 292.8h1.5v3h-1.5zM273.84 289.8h1.2v1.3h-1.2z M273.84 297.5h1.2v1.3h-1.2z M273.69 292.8h1.5v3h-1.5zM297.76 289.8h1.2v1.3h-1.2z M297.76 297.5h1.2v1.3h-1.2z M297.61 292.8h1.5v3h-1.5zM309.72 289.8h1.2v1.3h-1.2z M309.72 297.5h1.2v1.3h-1.2z M309.57 292.8h1.5v3h-1.5zM321.68 289.8h1.2v1.3h-1.2z M321.68 297.5h1.2v1.3h-1.2z M321.53 292.8h1.5v3h-1.5zM333.64 289.8h1.2v1.3h-1.2z M333.64 297.5h1.2v1.3h-1.2z M333.49 292.8h1.5v3h-1.5zM357.56 289.8h1.2v1.3h-1.2z M357.56 297.5h1.2v1.3h-1.2z M357.41 292.8h1.5v3h-1.5zM369.52 289.8h1.2v1.3h-1.2z M369.52 297.5h1.2v1.3h-1.2z M369.37 292.8h1.5v3h-1.5zM381.48 289.8h1.2v1.3h-1.2z M381.48 297.5h1.2v1.3h-1.2z M381.33 292.8h1.5v3h-1.5zM393.44 289.8h1.2v1.3h-1.2z M393.44 297.5h1.2v1.3h-1.2z M393.29 292.8h1.5v3h-1.5zM417.36 289.8h1.2v1.3h-1.2z M417.36 297.5h1.2v1.3h-1.2z M417.21 292.8h1.5v3h-1.5zM429.32 289.8h1.2v1.3h-1.2z M429.32 297.5h1.2v1.3h-1.2z M429.17 292.8h1.5v3h-1.5zM441.28 289.8h1.2v1.3h-1.2z M441.28 297.5h1.2v1.3h-1.2z M441.13 292.8h1.5v3h-1.5zM453.24 289.8h1.2v1.3h-1.2z M453.24 297.5h1.2v1.3h-1.2z M453.09 292.8h1.5v3h-1.5zM477.16 289.8h1.2v1.3h-1.2z M477.16 297.5h1.2v1.3h-1.2z M477.01 292.8h1.5v3h-1.5zM489.12 289.8h1.2v1.3h-1.2z M489.12 297.5h1.2v1.3h-1.2z M488.97 292.8h1.5v3h-1.5zM501.08 289.8h1.2v1.3h-1.2z M501.08 297.5h1.2v1.3h-1.2z M500.93 292.8h1.5v3h-1.5zM513.04 289.8h1.2v1.3h-1.2z M513.04 297.5h1.2v1.3h-1.2z M512.89 292.8h1.5v3h-1.5zM536.96 289.8h1.2v1.3h-1.2z M536.96 297.5h1.2v1.3h-1.2z M536.81 292.8h1.5v3h-1.5zM548.92 289.8h1.2v1.3h-1.2z M548.92 297.5h1.2v1.3h-1.2z M548.77 292.8h1.5v3h-1.5zM560.88 289.8h1.2v1.3h-1.2z M560.88 297.5h1.2v1.3h-1.2z M560.73 292.8h1.5v3h-1.5zM572.84 289.8h1.2v1.3h-1.2z M572.84 297.5h1.2v1.3h-1.2z M572.69 292.8h1.5v3h-1.5zM596.76 289.8h1.2v1.3h-1.2z M596.76 297.5h1.2v1.3h-1.2z M596.61 292.8h1.5v3h-1.5zM608.72 289.8h1.2v1.3h-1.2z M608.72 297.5h1.2v1.3h-1.2z M608.57 292.8h1.5v3h-1.5zM620.68 289.8h1.2v1.3h-1.2z M620.68 297.5h1.2v1.3h-1.2z M620.53 292.8h1.5v3h-1.5zM632.64 289.8h1.2v1.3h-1.2z M632.64 297.5h1.2v1.3h-1.2z M632.49 292.8h1.5v3h-1.5zM656.56 289.8h1.2v1.3h-1.2z M656.56 297.5h1.2v1.3h-1.2z M656.41 292.8h1.5v3h-1.5zM668.52 289.8h1.2v1.3h-1.2z M668.52 297.5h1.2v1.3h-1.2z M668.37 292.8h1.5v3h-1.5zM680.48 289.8h1.2v1.3h-1.2z M680.48 297.5h1.2v1.3h-1.2z M680.33 292.8h1.5v3h-1.5zM692.44 289.8h1.2v1.3h-1.2z M692.44 297.5h1.2v1.3h-1.2z M692.29 292.8h1.5v3h-1.5zM401.5 66.08h1.3v1.2h-1.3z M409.2 66.08h1.3v1.2h-1.3z M404.5 65.93h3v1.5h-3zM401.5 78.06h1.3v1.2h-1.3z M409.2 78.06h1.3v1.2h-1.3z M404.5 77.91h3v1.5h-3zM401.5 90.04h1.3v1.2h-1.3z M409.2 90.04h1.3v1.2h-1.3z M404.5 89.89h3v1.5h-3zM401.5 102.02h1.3v1.2h-1.3z M409.2 102.02h1.3v1.2h-1.3z M404.5 101.87h3v1.5h-3zM401.5 125.98h1.3v1.2h-1.3z M409.2 125.98h1.3v1.2h-1.3z M404.5 125.83h3v1.5h-3zM401.5 137.96h1.3v1.2h-1.3z M409.2 137.96h1.3v1.2h-1.3z M404.5 137.81h3v1.5h-3zM401.5 149.94h1.3v1.2h-1.3z M409.2 149.94h1.3v1.2h-1.3z M404.5 149.79h3v1.5h-3zM401.5 161.92h1.3v1.2h-1.3z M409.2 161.92h1.3v1.2h-1.3z M404.5 161.77h3v1.5h-3zM401.5 185.88h1.3v1.2h-1.3z M409.2 185.88h1.3v1.2h-1.3z M404.5 185.73h3v1.5h-3zM401.5 197.86h1.3v1.2h-1.3z M409.2 197.86h1.3v1.2h-1.3z M404.5 197.71h3v1.5h-3zM401.5 209.84h1.3v1.2h-1.3z M409.2 209.84h1.3v1.2h-1.3z M404.5 209.69h3v1.5h-3zM401.5 221.82h1.3v1.2h-1.3z M409.2 221.82h1.3v1.2h-1.3z M404.5 221.67h3v1.5h-3zM401.5 245.78h1.3v1.2h-1.3z M409.2 245.78h1.3v1.2h-1.3z M404.5 245.63h3v1.5h-3zM401.5 257.76h1.3v1.2h-1.3z M409.2 257.76h1.3v1.2h-1.3z M404.5 257.61h3v1.5h-3zM401.5 269.74h1.3v1.2h-1.3z M409.2 269.74h1.3v1.2h-1.3z M404.5 269.59h3v1.5h-3zM401.5 281.72h1.3v1.2h-1.3z M409.2 281.72h1.3v1.2h-1.3z M404.5 281.57h3v1.5h-3zM401.5 305.68h1.3v1.2h-1.3z M409.2 305.68h1.3v1.2h-1.3z M404.5 305.53h3v1.5h-3zM401.5 317.66h1.3v1.2h-1.3z M409.2 317.66h1.3v1.2h-1.3z M404.5 317.51h3v1.5h-3zM401.5 329.64h1.3v1.2h-1.3z M409.2 329.64h1.3v1.2h-1.3z M404.5 329.49h3v1.5h-3zM401.5 341.62h1.3v1.2h-1.3z M409.2 341.62h1.3v1.2h-1.3z M404.5 341.47h3v1.5h-3zM401.5 365.58h1.3v1.2h-1.3z M409.2 365.58h1.3v1.2h-1.3z M404.5 365.43h3v1.5h-3zM401.5 377.56h1.3v1.2h-1.3z M409.2 377.56h1.3v1.2h-1.3z M404.5 377.41h3v1.5h-3zM401.5 389.54h1.3v1.2h-1.3z M409.2 389.54h1.3v1.2h-1.3z M404.5 389.39h3v1.5h-3zM401.5 401.52h1.3v1.2h-1.3z M409.2 401.52h1.3v1.2h-1.3z M404.5 401.37h3v1.5h-3zM401.5 425.48h1.3v1.2h-1.3z M409.2 425.48h1.3v1.2h-1.3z M404.5 425.33h3v1.5h-3zM401.5 437.46h1.3v1.2h-1.3z M409.2 437.46h1.3v1.2h-1.3z M404.5 437.31h3v1.5h-3zM401.5 449.44h1.3v1.2h-1.3z M409.2 449.44h1.3v1.2h-1.3z M404.5 449.29h3v1.5h-3zM401.5 461.42h1.3v1.2h-1.3z M409.2 461.42h1.3v1.2h-1.3z M404.5 461.27h3v1.5h-3zM401.5 485.38h1.3v1.2h-1.3z M409.2 485.38h1.3v1.2h-1.3z M404.5 485.23h3v1.5h-3zM401.5 497.36h1.3v1.2h-1.3z M409.2 497.36h1.3v1.2h-1.3z M404.5 497.21h3v1.5h-3zM401.5 509.34h1.3v1.2h-1.3z M409.2 509.34h1.3v1.2h-1.3z M404.5 509.19h3v1.5h-3zM401.5 521.32h1.3v1.2h-1.3z M409.2 521.32h1.3v1.2h-1.3z M404.5 521.17h3v1.5h-3z" fill="#555"/><path d="M118.16 56.2h1.6v2h-1.6zM130.12 56.2h1.6v2h-1.6zM142.08 56.2h1.6v2h-1.6zM154.04 56.2h1.6v2h-1.6zM166 56.2h1.6v2h-1.6zM177.96 56.2h1.6v2h-1.6zM189.92 56.2h1.6v2h-1.6zM201.88 56.2h1.6v2h-1.6zM213.84 56.2h1.6v2h-1.6zM225.8 56.2h1.6v2h-1.6zM237.76 56.2h1.6v2h-1.6zM249.72 56.2h1.6v2h-1.6zM261.68 56.2h1.6v2h-1.6zM273.64 56.2h1.6v2h-1.6zM285.6 56.2h1.6v2h-1.6zM297.56 56.2h1.6v2h-1.6zM309.52 56.2h1.6v2h-1.6zM321.48 56.2h1.6v2h-1.6zM333.44 56.2h1.6v2h-1.6zM345.4 56.2h1.6v2h-1.6zM357.36 56.2h1.6v2h-1.6zM369.32 56.2h1.6v2h-1.6zM381.28 56.2h1.6v2h-1.6zM393.24 56.2h1.6v2h-1.6zM405.2 56.2h1.6v2h-1.6zM417.16 56.2h1.6v2h-1.6zM429.12 56.2h1.6v2h-1.6zM441.08 56.2h1.6v2h-1.6zM453.04 56.2h1.6v2h-1.6zM465 56.2h1.6v2h-1.6zM476.96 56.2h1.6v2h-1.6zM488.92 56.2h1.6v2h-1.6zM500.88 56.2h1.6v2h-1.6zM512.84 56.2h1.6v2h-1.6zM524.8 56.2h1.6v2h-1.6zM536.76 56.2h1.6v2h-1.6zM548.72 56.2h1.6v2h-1.6zM560.68 56.2h1.6v2h-1.6zM572.64 56.2h1.6v2h-1.6zM584.6 56.2h1.6v2h-1.6zM596.56 56.2h1.6v2h-1.6zM608.52 56.2h1.6v2h-1.6zM620.48 56.2h1.6v2h-1.6zM632.44 56.2h1.6v2h-1.6zM644.4 56.2h1.6v2h-1.6zM656.36 56.2h1.6v2h-1.6zM668.32 56.2h1.6v2h-1.6zM680.28 56.2h1.6v2h-1.6zM692.24 56.2h1.6v2h-1.6zM109 65.88h1.8v1.6h-1.8z M701 65.88h1.8v1.6h-1.8zM109 77.86h1.8v1.6h-1.8z M701 77.86h1.8v1.6h-1.8zM109 89.84h1.8v1.6h-1.8z M701 89.84h1.8v1.6h-1.8zM109 101.82h1.8v1.6h-1.8z M701 101.82h1.8v1.6h-1.8zM109 113.8h1.8v1.6h-1.8z M701 113.8h1.8v1.6h-1.8zM109 125.78h1.8v1.6h-1.8z M701 125.78h1.8v1.6h-1.8zM109 137.76h1.8v1.6h-1.8z M701 137.76h1.8v1.6h-1.8zM109 149.74h1.8v1.6h-1.8z M701 149.74h1.8v1.6h-1.8zM109 161.72h1.8v1.6h-1.8z M701 161.72h1.8v1.6h-1.8zM109 173.7h1.8v1.6h-1.8z M701 173.7h1.8v1.6h-1.8zM109 185.68h1.8v1.6h-1.8z M701 185.68h1.8v1.6h-1.8zM109 197.66h1.8v1.6h-1.8z M701 197.66h1.8v1.6h-1.8zM109 209.64h1.8v1.6h-1.8z M701 209.64h1.8v1.6h-1.8zM109 221.62h1.8v1.6h-1.8z M701 221.62h1.8v1.6h-1.8zM109 233.6h1.8v1.6h-1.8z M701 233.6h1.8v1.6h-1.8zM109 245.58h1.8v1.6h-1.8z M701 245.58h1.8v1.6h-1.8zM109 257.56h1.8v1.6h-1.8z M701 257.56h1.8v1.6h-1.8zM109 269.54h1.8v1.6h-1.8z M701 269.54h1.8v1.6h-1.8zM109 281.52h1.8v1.6h-1.8z M701 281.52h1.8v1.6h-1.8zM109 293.5h1.8v1.6h-1.8z M701 293.5h1.8v1.6h-1.8zM109 305.48h1.8v1.6h-1.8z M701 305.48h1.8v1.6h-1.8zM109 317.46h1.8v1.6h-1.8z M701 317.46h1.8v1.6h-1.8zM109 329.44h1.8v1.6h-1.8z M701 329.44h1.8v1.6h-1.8zM109 341.42h1.8v1.6h-1.8z M701 341.42h1.8v1.6h-1.8zM109 353.4h1.8v1.6h-1.8z M701 353.4h1.8v1.6h-1.8zM109 365.38h1.8v1.6h-1.8z M701 365.38h1.8v1.6h-1.8zM109 377.36h1.8v1.6h-1.8z M701 377.36h1.8v1.6h-1.8zM109 389.34h1.8v1.6h-1.8z M701 389.34h1.8v1.6h-1.8zM109 401.32h1.8v1.6h-1.8z M701 401.32h1.8v1.6h-1.8zM109 413.3h1.8v1.6h-1.8z M701 413.3h1.8v1.6h-1.8zM109 425.28h1.8v1.6h-1.8z M701 425.28h1.8v1.6h-1.8zM109 437.26h1.8v1.6h-1.8z M701 437.26h1.8v1.6h-1.8zM109 449.24h1.8v1.6h-1.8z M701 449.24h1.8v1.6h-1.8zM109 461.22h1.8v1.6h-1.8z M701 461.22h1.8v1.6h-1.8zM109 473.2h1.8v1.6h-1.8z M701 473.2h1.8v1.6h-1.8zM109 485.18h1.8v1.6h-1.8z M701 485.18h1.8v1.6h-1.8zM109 497.16h1.8v1.6h-1.8z M701 497.16h1.8v1.6h-1.8zM109 509.14h1.8v1.6h-1.8z M701 509.14h1.8v1.6h-1.8zM109 521.12h1.8v1.6h-1.8z M701 521.12h1.8v1.6h-1.8z" fill="#666"/></g>
<rect x="433" y="179" width="184" height="97" fill="#fff"/>
<g><path d="M220.6 54.8 H232.8 L226.7 61.2Z" fill="#f07d23"/><path d="M220.3 62 H232.3 Q233.9 62 233.9 63.6 V73.5 Q233.9 75 232.8 76.2 L230.6 78.3 Q229.8 79.2 228.8 79.2 H223.7 Q222.7 79.2 221.9 78.3 L219.7 76.2 Q218.6 75 218.6 73.5 V63.6 Q218.6 62 220.3 62Z" fill="#f07d23"/><rect x="220.8" y="63.9" width="10.8" height="1.8" fill="#fff"/><line x1="226.4" y1="64" x2="226.4" y2="76.5" stroke="#3a4fa6" stroke-width="2.4" stroke-linecap="round"/><path d="M691.3 152.8 L698.6 146.4 V159.2Z" fill="#2d3291" stroke="#2d3291" stroke-width="0.6" stroke-linejoin="round"/><rect x="698" y="151.8" width="6" height="2" fill="#2d3291"/></g>
<rect x="106.4" y="53.5" width="599" height="479.8" fill="none" stroke="#231f20" stroke-width="3.5"/>
<g><text transform="translate(275.09 16.77) rotate(0.05 131.14 0) scale(1.0460 1)" font-size="17.61">Output Power Limit Response</text><text transform="translate(714.64 113.58) rotate(0.05 10.42 0) scale(1.0375 1)" font-size="18.77">20</text><text transform="translate(741.66 113.58) rotate(0.05 5.46 0) scale(0.8812 1)" font-size="18.77">V</text><text transform="translate(760.82 113.58) rotate(0.05 12.63 0) scale(0.9343 1)" font-size="18.77">div</text><text transform="translate(714.64 171.78) rotate(0.05 10.42 0) scale(1.0455 1)" font-size="18.62">20</text><text transform="translate(741.66 171.78) rotate(0.05 5.46 0) scale(0.8881 1)" font-size="18.62">V</text><text transform="translate(760.82 171.78) rotate(0.05 12.63 0) scale(0.9416 1)" font-size="18.62">div</text><text transform="translate(726.12 359.57) rotate(0.05 5.83 0) scale(0.9001 1)" font-size="18.77">A</text><text transform="translate(748.13 359.57) rotate(0.05 12.42 0) scale(0.9191 1)" font-size="18.77">div</text><text transform="translate(721.75 479.27) rotate(0.05 4.96 0) scale(1.0138 1)" font-size="19.20">0</text><text transform="translate(738.02 479.27) rotate(0.05 7.93 0) scale(0.8781 1)" font-size="19.20">W</text><text transform="translate(762.03 479.27) rotate(0.05 12.47 0) scale(0.9020 1)" font-size="19.20">div</text><text transform="translate(371.48 555.38) rotate(0.05 5.4 0) scale(1.1108 1)" font-size="19.06">0</text><text transform="translate(386.84 555.38) rotate(0.05 12.87 0) scale(0.9646 1)" font-size="19.06">ms</text><text transform="translate(423.53 555.38) rotate(0.05 12.57 0) scale(0.9164 1)" font-size="19.06">div</text><text transform="translate(69.55 178.47) rotate(0.05 5.61 0) scale(0.8853 1)" font-size="19.20">V</text><text transform="translate(81.35 183.47) rotate(0.05 7.16 0) scale(0.9450 1)" font-size="16.30">IN</text><text transform="translate(54.56 235.97) rotate(0.05 5.56 0) scale(0.8839 1)" font-size="19.06">V</text><text transform="translate(66.67 241.38) rotate(0.05 14.65 0) scale(0.8794 1)" font-size="15.87">OUT</text><text transform="translate(61.05 357.38) rotate(0.05 1.91 0) scale(0.9557 1)" font-size="19.06">I</text><text transform="translate(66.67 362.27) rotate(0.05 14.65 0) scale(0.8637 1)" font-size="16.16">OUT</text><text transform="translate(54.42 467.97) rotate(0.05 5.88 0) scale(1.0426 1)" font-size="17.90">P</text><text transform="translate(66.67 472.88) rotate(0.05 14.45 0) scale(0.8594 1)" font-size="16.01">OUT</text><text transform="translate(2.76 487.88) rotate(0.05 5.46 0) scale(0.8678 1)" font-size="19.06">V</text><text transform="translate(14.57 492.57) rotate(0.05 14.5 0) scale(0.8783 1)" font-size="15.72">OUT</text><text transform="translate(61.25 487.57) rotate(0.05 1.76 0) scale(0.9013 1)" font-size="18.62">I</text><text transform="translate(66.67 492.57) rotate(0.05 14.45 0) scale(0.8752 1)" font-size="15.72">OUT</text><text transform="translate(458.4 210.08) rotate(0.05 1.99 0) scale(0.9711 1)" font-size="19.49">I</text><text transform="translate(463.79 214.78) rotate(0.05 12.19 0) scale(0.9312 1)" font-size="15.87">LIM</text><text transform="translate(517.9 210.08) rotate(0.05 5.99 0) scale(0.8900 1)" font-size="19.49">A</text><text transform="translate(458.58 233.47) rotate(0.05 5.55 0) scale(0.8068 1)" font-size="19.93">C</text><text transform="translate(470.53 238.58) rotate(0.05 4.52 0) scale(0.9561 1)" font-size="16.30">L</text><text transform="translate(501.13 233.38) rotate(0.05 5.07 0) scale(1.0130 1)" font-size="19.64">0</text><text transform="translate(512.55 233.38) rotate(0.05 4.91 0) scale(0.9805 1)" font-size="19.64">0</text><text transform="translate(523.76 233.38) rotate(0.05 4.86 0) scale(0.9697 1)" font-size="19.64">0</text><text transform="translate(550.02 233.47) rotate(0.05 5.33 0) scale(0.9593 1)" font-size="19.49">F</text><text transform="translate(459.36 256.38) rotate(0.05 5.31 0) scale(0.8500 1)" font-size="18.91">V</text><text transform="translate(470.78 261.47) rotate(0.05 17.35 0) scale(0.9424 1)" font-size="15.87">PLIM</text><text transform="translate(524.06 256.38) rotate(0.05 5.46 0) scale(0.8744 1)" font-size="18.91">V</text><text transform="translate(536.36 261.57) rotate(0.05 14.71 0) scale(0.8590 1)" font-size="16.30">OUT</text><text transform="translate(582.82 256.38) rotate(0.05 5.13 0) scale(1.0631 1)" font-size="18.91">0</text><path d="M752.8 113.8H755.5L760.7 100.4H758ZM752.8 172H755.5L760.7 158.7H758ZM717.7 346.4H720.5V359.8H717.7V349.3L715 349.7V347.5ZM740.1 359.8H742.8L747.3 346.2H744.6ZM717.7 465.8H720.5V479.5H717.7V468.7L715 469.1V466.9ZM754.1 479.5H756.8L761.4 465.8H758.7ZM367.5 542H370.3V555.6H367.5V544.9L364.8 545.3V543.1ZM413.7 555.6H416.4L421.8 541.9H419.1ZM493.1 201.1H501.9V203.44H493.1Z M493.1 205.26H501.9V207.6H493.1ZM510 196.4H512.8V210.3H510V199.3L507.1 199.7V197.5ZM480.5 224.9H488.9V227.06H480.5Z M480.5 228.74H488.9V230.9H480.5ZM497 219.6H499.8V233.6H497V222.5L494.2 222.9V220.7ZM540.1 223.3H543V229.6Q543 231.3 544.4 230.5L546 229.5V223.3H548.7V233.7H546V232.2L544.3 233.3Q543.5 233.8 543 233.5V237.6H540.1ZM510.5 248.4H519V250.27H510.5Z M510.5 251.73H519V253.6H510.5ZM566.5 257H569.2L575.1 243.1H572.4ZM578.8 243.1H581.6V256.6H578.8V246L576.1 246.4V244.2Z" fill="#231f20"/><path d="M49.8 479.1 L55.5 484.8 M55.5 479.1 L49.8 484.8" stroke="#231f20" stroke-width="2.2" fill="none"/></g>
</svg>
</body></html>
